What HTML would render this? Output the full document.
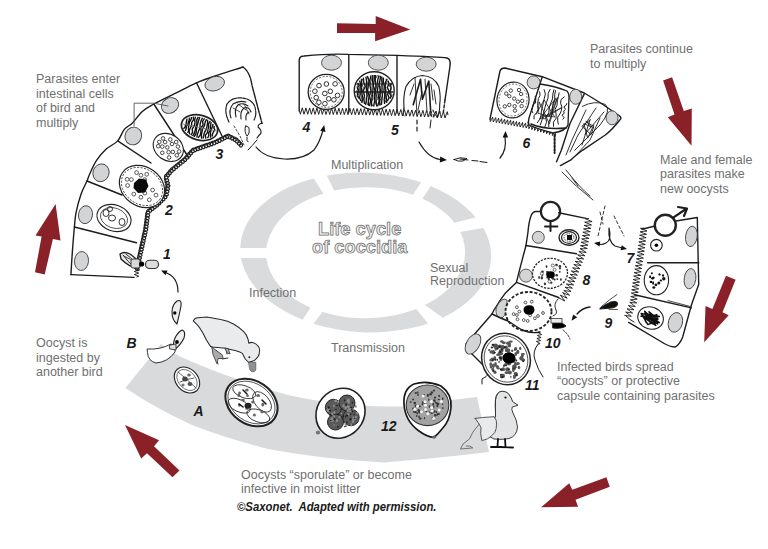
<!DOCTYPE html>
<html><head><meta charset="utf-8">
<style>
html,body{margin:0;padding:0;background:#fff;}
svg{display:block;}
.t{font-family:"Liberation Sans",sans-serif;font-size:12.5px;fill:#707070;}
.n{font-family:"Liberation Sans",sans-serif;font-size:14px;font-weight:bold;font-style:italic;fill:#1a1a1a;}
.ln{fill:none;stroke:#1c1c1c;stroke-width:1.4;stroke-linecap:round;stroke-linejoin:round;}
.nuc{fill:#d4d5d7;stroke:#333;stroke-width:0.9;}
.ar{fill:#8a2128;}
</style></head>
<body>
<svg width="768" height="549" viewBox="0 0 768 549">
<rect width="768" height="549" fill="#fff"/>

<!-- central ring -->
<g id="ring">
<path fill="#dadbdd" fill-rule="evenodd" d="M240.2,252.5 A125.5,79.8 0 1 0 491.2,252.5 A125.5,79.8 0 1 0 240.2,252.5 Z" transform="rotate(2.6 365.7 252.5)"/><path fill="#fff" d="M266.1,252.7 A99.5,65.5 0 1 0 465.1,252.7 A99.5,65.5 0 1 0 266.1,252.7 Z" transform="rotate(-0.5 365.6 252.7)"/>
<g fill="#fff">
<polygon points="235,248 275,248 275,258 235,258"/>
<polygon points="311.3,174.4 323.3,168.6 337.2,196.4 326.2,198.1"/>
<polygon points="424.9,177.0 433.2,181.9 419.8,203.1 410.6,198.0"/>
<polygon points="482.3,215.5 488.9,227.0 454.1,233.0 448.2,224.5"/>
<polygon points="446.6,320.5 430.3,326.2 412.1,304.1 420.4,301.7"/>
<polygon points="299.1,325.6 308.0,331.1 325.8,307.5 313.7,302.5"/>
</g>
</g>

<!-- bottom grey band -->
<path fill="#d9dadc" d="M161,344 Q168,350 181,357 Q235,381 290,395.5 Q330,404 360,405.8 Q385,407 404,406.4 Q430,404 451,400 L477,397 L489,452 Q440,458 384,462.5 Q320,459 267,448.7 Q225,438 192,425 Q155,408 125.4,388 Z"/>

<!-- arrows -->
<polygon class="ar" points="337,23.2 375.7,24 375.7,16.1 410.3,29.4 375.1,41.3 375.1,33.1 337,32.9"/>
<polygon class="ar" points="663.1,80.5 672.1,77.3 683.8,111.1 691.8,108.6 691.5,145.7 667.8,117.3 674.5,114.4"/>
<polygon class="ar" points="726,275.8 735.6,279.7 722.5,312.2 728.7,315.3 704.2,342.3 705.5,306 712.4,309.1"/>
<polygon class="ar" points="606.4,477.3 609.8,486.7 575.5,499.7 578.1,506.7 541.1,507.3 569.2,483.3 572.3,489.8"/>
<polygon class="ar" points="179.5,470.6 172.5,477.3 147,453.3 141.2,458.4 125,425 159.1,440.2 154,446.3"/>
<polygon class="ar" points="44.7,274.6 35,272.3 41.6,236.4 35.5,235.5 55.6,204 60.5,240.6 52.9,239.1"/>

<!-- texts -->
<g class="t">
<text x="36" y="83">Parasites enter</text>
<text x="36" y="97.5">intestinal cells</text>
<text x="36" y="112">of bird and</text>
<text x="36" y="126.5">multiply</text>
<text x="590" y="53">Parasites continue</text>
<text x="590" y="67.5">to multiply</text>
<text x="660" y="164">Male and female</text>
<text x="660" y="178.3">parasites make</text>
<text x="660" y="192.5">new oocysts</text>
<text x="331" y="169">Multiplication</text>
<text x="430" y="271.5">Sexual</text>
<text x="430" y="285">Reproduction</text>
<text x="249" y="296.5">Infection</text>
<text x="331" y="351.5">Transmission</text>
<text x="36" y="347">Oocyst is</text>
<text x="36" y="361.5">ingested by</text>
<text x="36" y="376">another bird</text>
<text x="557" y="371">Infected birds spread</text>
<text x="557" y="385.2">“oocysts” or protective</text>
<text x="557" y="399.5">capsule containing parasites</text>
<text x="241" y="479.3">Oocysts “sporulate” or become</text>
<text x="241" y="493">infective in moist litter</text>
</g>
<text x="0" y="0" transform="translate(237 510.9) scale(0.86 1)" style="font-family:'Liberation Sans',sans-serif;font-size:13.2px;font-weight:bold;font-style:italic;fill:#1a1a1a">©Saxonet.&#160; Adapted with permission.</text>

<g style="font-family:'Liberation Sans',sans-serif;font-size:18.3px;font-weight:bold;fill:#f0f0f0;stroke:#6e6e6e;stroke-width:0.75">
<text x="318" y="234.5">Life cycle</text>
<text x="312" y="253.3">of coccidia</text>
</g>

<!-- CELLS -->
<g id="cells">
<polyline class="ln" points="134,277.4 70.9,274.6" />
<polyline fill="none" stroke="#222" stroke-width="1.0" points="136.5,277 138.7,276.2 136.5,275.4 134.3,274.6 136.5,273.9 138.7,273.1 136.5,272.3 134.3,271.5 136.5,270.7 138.7,269.9 136.5,269.1 134.3,268.4 136.5,267.6 138.7,266.8 136.5,266"/>
<path class="ln" d="M70.9,274.6 C71.2,270.5 71.9,257.9 72.5,250 C73.1,242.1 73.8,233.2 74.4,227 C75,220.8 74.9,218.3 76,212.8 C77.1,207.3 79.2,199.5 81,194.2 C82.8,188.9 85.5,184.4 87,181 C88.5,177.6 88.2,177.1 89.8,173.7 C91.4,170.3 93.7,164.7 96.4,160.6 C99.1,156.5 102.7,152.4 106.2,149.1 C109.8,145.8 114.7,144.2 117.7,140.9 C120.7,137.6 121.8,132.4 124.3,129.4 C126.8,126.4 129.5,125.9 132.5,122.9 C135.5,119.9 138.8,114.6 142.3,111.4 C145.9,108.2 148.4,107 153.8,104 C159.2,101 167.5,97.2 174.6,93.7 C181.7,90.2 189.1,86 196.5,82.8 C203.9,79.6 211.6,77.2 219.3,74.6 C227.1,72 239.1,68.3 243,67" />
<path class="ln" d="M243,67 Q250,72 251.9,85 L262,123.3" style="stroke-dasharray:6 1.2"/>
<path class="ln" d="M262,123.3 Q258,124 258,127 Q262,130 260.8,133.5 Q258,136 257,138" style="stroke-width:1.1"/>
<path class="ln" d="M257,140 Q252,146 248,150" style="stroke-width:1"/>
<polyline class="ln" points="74.4,227 136.5,242.8" />
<polyline class="ln" points="87,181 122,195" />
<polyline class="ln" points="117.7,140.9 151,163" />
<polyline class="ln" points="153.8,104 189,158" />
<polyline class="ln" points="196.5,82.8 222,136" />
<polyline fill="none" stroke="#222" stroke-width="1.2" points="137.4,268 138.4,268.3 139,268.9 139.1,269.8 138.6,270.5 137.7,270.7 136.7,270.4 135.8,269.6 135.4,268.4 135.6,267.1 136.3,266 137.3,265.3 138.4,265.2 139.3,265.7 139.7,266.5 139.5,267.3 138.8,267.8 137.8,267.8 136.8,267.3 136.2,266.2 136,264.9 136.4,263.7 137.3,262.8 138.4,262.4 139.4,262.5 140.1,263.2 140.2,264 139.8,264.7 139,265 137.9,264.8 137.1,264 136.6,262.8 136.7,261.5 137.3,260.4 138.3,259.7 139.4,259.5 140.3,259.9 140.8,260.7 140.7,261.5 140.1,262.1 139.1,262.2 138.1,261.7 137.4,260.7 137.1,259.4 137.5,258.1 138.3,257.2 139.4,256.7 140.4,256.8 141.2,257.4 141.4,258.2 141,258.9 140.2,259.3 139.2,259.2 138.3,258.5 137.7,257.3 137.8,256 138.3,254.8 139.3,254 140.4,253.8 141.4,254.2 141.9,254.9 141.9,255.7 141.3,256.3 140.3,256.5 139.3,256.1 138.6,255.1 138.3,253.9 138.6,252.6 139.4,251.6 140.5,251 141.6,251.1 142.3,251.7 142.6,252.5 142.3,253.2 141.5,253.7 140.5,253.5 139.6,252.9 139,251.7 139,250.4 139.5,249.2 140.5,248.4 141.6,248.2 142.6,248.5 143.2,249.2 143.2,250 142.6,250.6 141.7,250.8 140.7,250.5 139.9,249.6 139.5,248.3 139.8,247 140.6,246 141.6,245.4 142.7,245.4 143.6,245.9 143.9,246.7 143.6,247.5 142.9,248 141.8,247.9 140.9,247.3 140.3,246.2 140.2,244.9 140.7,243.7 141.7,242.8 142.8,242.5 143.8,242.8 144.4,243.4 144.4,244.3 143.9,244.9 143,245.2 142,244.9 141.2,244 140.8,242.8 141,241.5 141.7,240.4 142.8,239.8 143.9,239.7 144.8,240.2 145.1,241 144.9,241.8 144.2,242.3 143.2,242.3 142.2,241.7 141.6,240.7 141.5,239.4 141.9,238.1 142.8,237.2 144,236.9 145,237.1 145.6,237.7 145.7,238.5 145.3,239.2 144.4,239.5 143.4,239.3 142.5,238.5 142.1,237.2 142.2,235.9 142.9,234.8 144,234.1 145.1,234 146,234.5 146.4,235.3 146.2,236.1 145.6,236.6 144.6,236.7 143.6,236.1 142.9,235.1 142.7,233.8 143.1,232.6 144,231.6 145.1,231.2 146.2,231.4 146.9,232 147,232.8 146.6,233.5 145.8,233.9 144.7,233.7 143.9,232.9 143.4,231.7 143.5,230.4 144.1,229.2 145.1,228.5 146.3,228.4 147.1,228.7 147.6,229.3 147.6,230.2 147,230.8 146,231 145,230.6 144.2,229.7 143.8,228.4 144.1,227.1 144.9,226 145.9,225.5 147,225.5 147.8,226.1 148,226.9 147.7,227.7 146.9,228.1 145.9,228 144.9,227.3 144.3,226.2 144.3,224.8 144.8,223.6 145.8,222.8 146.9,222.6 147.8,222.9 148.4,223.6 148.3,224.4 147.7,225.1 146.8,225.2 145.7,224.8 144.9,223.9 144.6,222.6 144.9,221.3 145.6,220.3 146.7,219.8 147.8,219.8 148.5,220.3 148.8,221.1 148.5,221.9 147.7,222.3 146.6,222.2 145.7,221.5 145.1,220.4 145,219.1 145.6,217.9 146.5,217.1 147.6,216.8 148.6,217.1 149.1,217.8 149.1,218.7 148.5,219.3 147.5,219.5 146.5,219.1 145.7,218.1 145.4,216.9 145.6,215.6 146.4,214.5 147.5,214 148.5,214 149.3,214.6 149.6,215.4 149.2,216.2 148.4,216.6 147.4,216.5 146.4,215.8 145.8,214.7 145.8,213.3 146.3,212.1 147.3,211.3 148.4,211.1 149.4,211.4 149.9,212.1 149.8,212.9 148.6,213.9 147,213.5 146.5,212.5 146.6,211.2 147.2,210.1 148.3,209.3 149.6,209.1 150.7,209.4 151.5,210.2 151.7,211.1 151.3,211.9 150.6,212.2 149.7,212 149,211.2 148.8,210.1 149.1,208.9 150,207.9 151.2,207.3 152.4,207.4 153.4,207.9 153.9,208.8 153.9,209.7 153.3,210.3 152.4,210.4 151.6,209.9 151.1,208.9 151.1,207.7 151.7,206.6 152.7,205.8 154,205.5 155.2,205.8 156,206.5 156.2,207.4 155.9,208.2 155.2,208.6 154.3,208.4 153.6,207.7 153.3,206.6 153.6,205.4 154.4,204.3 155.6,203.7 156.8,203.7 157.9,204.2 158.4,205.1 158.4,206 157.9,206.6 157.1,206.8 156.2,206.4 155.7,205.4 155.6,204.2 156.1,203.1 157,202.2 158.2,201.8 159.4,201.9 160.3,202.5 160.7,203.4 160.5,204.2 159.9,204.8 159,204.7 158.2,204.2 157.7,203.1 157.8,201.9 158.5,200.7 159.5,200 160.8,199.7 161.9,200.1 162.6,200.9 162.8,201.8 162.3,202.5 161.5,202.8 160.7,202.5 160,201.7 159.7,200.5 160.1,199.2 161,198.3 162.2,197.7 163.4,197.8 164.4,198.4 164.8,199.2 164.7,200.1 164.1,200.6 163.2,200.7 162.3,200.1 161.8,199.1 161.9,197.8 162.5,196.7 163.6,195.9 164.8,195.6 165.9,196 166.7,196.7 166.9,197.6 166.5,198.3 165.7,198.7 164.8,198.4 164.1,197.6 163.8,196.5 164,195.8 164.2,195 164.9,193.9 165.9,193.3 167.1,193.2 167.9,193.7 168.3,194.5 168.1,195.3 167.3,195.8 166.3,195.7 165.3,195.1 164.7,194 164.6,192.7 165.1,191.5 166.1,190.6 167.2,190.3 168.2,190.6 168.8,191.3 168.8,192.1 168.2,192.8 167.3,193 166.2,192.6 165.5,191.6 165.2,190.4 165.4,189 166.3,188 167.4,187.5 168.5,187.6 169.2,188.2 169.4,189 169.1,189.7 168.2,190.1 167.2,190 166.3,189.2 165.8,188 165.8,186.7 166.5,185.5 167.5,184.8 168.6,184.6 169.6,185.1 169.9,185.4 169.9,185.9 169.5,186.6 168.6,187.1 167.5,187 166.4,186.3 165.8,185.1 165.7,183.8 166.2,182.6 167.1,181.8 168.1,181.6 168.9,182 169.3,182.7 169.1,183.6 168.3,184.2 167.2,184.2 166.1,183.7 165.3,182.7 165,181.4 165.3,180.1 166.1,179.2 167.1,178.8 168.1,179 168.6,179.6 168.6,180.5 168,181.2 167,181.5 165.8,181.1 164.9,180.2 164.4,179 164.5,177.7 165.2,176.6 166.2,176 167.2,176 167.9,176.6 168.1,177.4 166.9,178.8 165.1,178.5 164.6,177.5 164.5,176.3 165,175 166.1,174.2 167.3,173.9 168.5,174.1 169.2,174.9 169.4,175.8 169,176.5 168.2,176.8 167.3,176.5 166.6,175.7 166.3,174.5 166.7,173.2 167.6,172.2 168.8,171.7 170,171.8 170.9,172.4 171.3,173.3 171.1,174.1 170.4,174.6 169.5,174.5 168.7,173.8 168.2,172.7 168.4,171.4 169.1,170.3 170.3,169.6 171.5,169.5 172.6,170 173.2,170.8 173.1,171.7 172.6,172.3 171.7,172.4 170.8,171.9 170.1,170.7 170.3,169.3 171,168.2 172.2,167.6 173.5,167.5 174.5,167.9 175.2,168.8 175.2,169.7 174.7,170.4 173.9,170.6 173,170.2 172.4,169.3 172.4,168.1 172.9,166.9 173.9,166 175.1,165.6 176.3,165.9 177.2,166.5 177.5,167.5 177.3,168.3 176.5,168.7 175.7,168.6 174.9,167.9 174.6,166.8 174.8,165.6 175.6,164.5 176.8,163.9 178.1,163.9 179.1,164.4 179.7,165.2 179.7,166.1 179.2,166.8 178.3,166.9 177.5,166.5 176.9,165.5 176.9,164.3 177.5,163.1 178.5,162.3 179.8,162 181,162.3 181.8,163 182,163.9 181.7,164.7 181,165.1 180.1,164.9 179.4,164.2 179.1,163 179.4,161.8 180.2,160.8 181.4,160.2 182.7,160.2 183.7,160.8 184.2,161.7 184.2,162.6 183.6,163.2 182.7,163.2 181.9,162.8 181.4,161.8 181.4,160.5 182,159.4 183.1,158.6 184.4,158.3 185.6,158.7 186.3,159.4 186.5,160.3 186.2,161.1 185.6,161.4 184.8,161.3 184,160.6 183.6,159.5 183.7,158.3 184.4,157.1 185.5,156.4 186.8,156.3 187.8,156.7 188.5,157.5 188.5,158.3 188,159 187.2,159.2 186.3,158.8 185.7,157.9 185.5,156.7 185.9,155.5 186.9,154.5 188.1,154.1 189.3,154.2 190.1,154.9 190.5,155.7 190.2,156.6 189.5,157 188.6,156.9 187.8,156.2 187.4,155.1 187.6,153.9 188.3,152.8 189.4,152.1 190.6,151.9 191.7,152.3 192.3,153.1 192.3,154 191.8,154.7 191,154.9 190.1,154.5 189.5,153.5 189.3,152.3 189.8,151.1 190.7,150.2 191.9,149.7 193.1,149.9 194,150.5 194.3,151.4 194.1,152.2 193.4,152.7 192.4,152.6 191.3,151.5 191.3,149.9 192,148.8 193.2,148.2 194.5,148.1 195.7,148.6 196.4,149.5 196.5,150.5 196.2,151.3 195.4,151.6 194.6,151.4 194,150.6 193.8,149.5 194.3,148.4 195.3,147.5 196.5,147.1 197.8,147.3 198.8,148 199.3,149 199.2,149.9 198.6,150.5 197.8,150.6 197,150.1 196.6,149.2 196.7,148.1 197.4,147 198.5,146.3 199.8,146.2 201,146.6 201.8,147.5 202,148.5 201.7,149.3 201,149.7 200.1,149.5 199.5,148.8 199.3,147.7 199.7,146.6 200.6,145.7 201.8,145.2 203.1,145.3 204.2,146 204.7,146.9 204.7,147.9 204.1,148.6 203.3,148.7 202.5,148.3 202.1,147.4 202.1,146.2 202.8,145.2 203.9,144.4 205.2,144.2 206.4,144.6 207.2,145.4 207.5,146.4 207.2,147.3 206.5,147.7 205.7,147.6 205,147 204.8,145.9 205.1,144.8 205.9,143.8 207.2,143.3 208.5,143.4 209.5,144 210.1,144.9 210.2,145.9 209.7,146.6 208.9,146.8 208.1,146.4 207.6,145.6 207.6,144.4 208.1,143.3 209.2,142.5 210.5,142.3 211.7,142.6 212.6,143.4 212.9,144.4 212.7,145.2 212.1,145.8 211.2,145.7 210.5,145.1 210.2,144.1 210.5,143 211.3,142 212.5,141.4 213.8,141.4 214.9,141.9 215.6,142.8 215.7,143.8 215.2,144.6 214.4,144.8 213.6,144.5 213.1,143.7 213,142.8 213.4,141.7 214.3,140.7 215.5,140.3 216.8,140.4 217.8,141 218.3,141.9 218.3,142.8 217.7,143.4 216.9,143.6 216.1,143.1 215.6,142.2 215.7,141 216.3,139.9 217.4,139.1 218.7,138.9 219.9,139.3 220.7,140.1 221,141 220.7,141.8 220,142.3 219.1,142.1 218.4,141.4 218.2,140.3 218.5,139.2 219.4,138.2 220.6,137.7 221.9,137.7 222.9,138.3 223.5,139.2 223.5,140.1 223,140.8 222.2,141 221.3,140.5 220.8,139.6 220.8,138.5 221.4,137.3 222.5,136.6 223.8,136.3 225,136.6 225.8,137.4 226.2,138.3 225.9,139.2 225.2,139.6 224.3,139.5 223.6,138.9 223.4,137.8 223.6,136.6 224.5,135.6 225.7,135 227,135.1 228,135.6 228.6,136.5 228.7,137.4 228.2,138.1 227.4,138.3 226.6,138 226,137.1 226.2,135 228.1,134.1 229.4,134.5 230.4,135.4 230.9,136.5 230.8,137.7 230.2,138.5 229.3,138.8 228.6,138.5 228.2,137.7 228.3,136.7 229.1,135.9 230.3,135.4 231.6,135.6 232.7,136.3 233.4,137.4 233.5,138.6 233,139.6 232.2,140.1 231.4,139.9 230.8,139.3 230.8,138.3 231.4,137.4 232.4,136.8 233.7,136.8 235,137.3 235.8,138.3 236.1,139.5 235.8,140.6 235.1,141.2 234.3,141.3 233.6,140.9 233.3,140 233.7,139 234.6,138.3 236.2,138 237.6,138.8 238.3,139.9 238.4,141.2 238,142.3 237.1,142.9 236.2,142.9 235.6,142.3 235.5,141.5 235.9,140.6 236.9,140 238.2,140 239.4,140.6 240.2,141.6 240.5,142.9 240.2,144.1 239.4,144.8 238.5,145 237.8,144.6 237.5,143.8 237.8,142.9 238.7,142.2 239.9,142 241.1,142.4 242.1,143.4 242.5,144.6 242.4,145.8 241.7,146.7 240.8,147.1 240,146.8 239.6,146.1 239.7,145.2 240.4,144.4 241.6,144"/>
<ellipse cx="81.5" cy="261" rx="7" ry="9.5" transform="rotate(5 81.5 261)" fill="#d3d4d6" stroke="#444" stroke-width="0.9" />
<ellipse cx="85.5" cy="214.7" rx="7" ry="9" transform="rotate(10 85.5 214.7)" fill="#d3d4d6" stroke="#444" stroke-width="0.9" />
<ellipse cx="101" cy="172.8" rx="8" ry="9" transform="rotate(20 101 172.8)" fill="#d3d4d6" stroke="#444" stroke-width="0.9" />
<ellipse cx="133.3" cy="136" rx="8.2" ry="9" transform="rotate(25 133.3 136)" fill="#d3d4d6" stroke="#444" stroke-width="0.9" />
<ellipse cx="170" cy="105.5" rx="9" ry="7.5" transform="rotate(-30 170 105.5)" fill="#d3d4d6" stroke="#444" stroke-width="0.9" />
<ellipse cx="214.7" cy="83.7" rx="10" ry="7" transform="rotate(-18 214.7 83.7)" fill="#d3d4d6" stroke="#444" stroke-width="0.9" />
<ellipse cx="114" cy="218" rx="17.5" ry="13" transform="rotate(20 114 218)" fill="#fff" stroke="#222" stroke-width="1.1" />
<ellipse cx="114" cy="218" rx="14" ry="10" transform="rotate(20 114 218)" fill="none" stroke="#222" stroke-width="0.7" />
<ellipse cx="106" cy="213" rx="3" ry="3.5" transform="rotate(0 106 213)" fill="none" stroke="#222" stroke-width="0.9" />
<ellipse cx="112" cy="218" rx="3.5" ry="3" transform="rotate(0 112 218)" fill="none" stroke="#222" stroke-width="0.9" />
<ellipse cx="122" cy="222" rx="3" ry="3.5" transform="rotate(0 122 222)" fill="none" stroke="#222" stroke-width="0.9" />
<ellipse cx="110" cy="209" rx="2.5" ry="2.5" transform="rotate(0 110 209)" fill="none" stroke="#222" stroke-width="0.9" />
<ellipse cx="142" cy="186.5" rx="24" ry="19.5" transform="rotate(35 142 186.5)" fill="#fff" stroke="#222" stroke-width="1.2" />
<ellipse cx="142" cy="186.5" rx="22" ry="17.5" transform="rotate(35 142 186.5)" fill="none" stroke="#222" stroke-width="0.8" stroke-dasharray="2 1.5"/>
<circle cx="139.3" cy="187" r="1.9" fill="#fff" stroke="#333" stroke-width="0.8"/><circle cx="131.4" cy="179.6" r="1.9" fill="#fff" stroke="#333" stroke-width="0.8"/><circle cx="140.9" cy="197.2" r="1.9" fill="#fff" stroke="#333" stroke-width="0.8"/><circle cx="144.9" cy="193.1" r="1.9" fill="#fff" stroke="#333" stroke-width="0.8"/><circle cx="136.6" cy="172.6" r="1.9" fill="#fff" stroke="#333" stroke-width="0.8"/><circle cx="133.8" cy="194.1" r="1.9" fill="#fff" stroke="#333" stroke-width="0.8"/><circle cx="144.7" cy="179.7" r="1.9" fill="#fff" stroke="#333" stroke-width="0.8"/><circle cx="149.3" cy="199.8" r="1.9" fill="#fff" stroke="#333" stroke-width="0.8"/><circle cx="140.9" cy="175.2" r="1.9" fill="#fff" stroke="#333" stroke-width="0.8"/><circle cx="152.6" cy="190" r="1.9" fill="#fff" stroke="#333" stroke-width="0.8"/><circle cx="156" cy="195.1" r="1.9" fill="#fff" stroke="#333" stroke-width="0.8"/><circle cx="144.9" cy="186.5" r="1.9" fill="#fff" stroke="#333" stroke-width="0.8"/><circle cx="127.6" cy="185.5" r="1.9" fill="#fff" stroke="#333" stroke-width="0.8"/><circle cx="127.1" cy="179.3" r="1.9" fill="#fff" stroke="#333" stroke-width="0.8"/><circle cx="138.7" cy="182.3" r="1.9" fill="#fff" stroke="#333" stroke-width="0.8"/><circle cx="146.7" cy="174.3" r="1.9" fill="#fff" stroke="#333" stroke-width="0.8"/>
<polygon fill="#0a0a0a" points="134,183 139,178.5 146,179.5 148.5,186 145,192.5 138,193 133.5,188"/>
<ellipse cx="168.3" cy="147.4" rx="16" ry="13" transform="rotate(35 168.3 147.4)" fill="#fff" stroke="#222" stroke-width="1.1" />
<circle cx="170.3" cy="139.5" r="1.8" fill="#fff" stroke="#333" stroke-width="0.9"/><circle cx="177.9" cy="146.6" r="1.8" fill="#fff" stroke="#333" stroke-width="0.9"/><circle cx="172" cy="144" r="1.8" fill="#fff" stroke="#333" stroke-width="0.9"/><circle cx="162.3" cy="146.6" r="1.8" fill="#fff" stroke="#333" stroke-width="0.9"/><circle cx="169.1" cy="157.5" r="1.8" fill="#fff" stroke="#333" stroke-width="0.9"/><circle cx="168.6" cy="152.2" r="1.8" fill="#fff" stroke="#333" stroke-width="0.9"/><circle cx="176.8" cy="155.3" r="1.8" fill="#fff" stroke="#333" stroke-width="0.9"/><circle cx="163" cy="138.4" r="1.8" fill="#fff" stroke="#333" stroke-width="0.9"/><circle cx="159.3" cy="141.9" r="1.8" fill="#fff" stroke="#333" stroke-width="0.9"/><circle cx="167.3" cy="147.4" r="1.8" fill="#fff" stroke="#333" stroke-width="0.9"/><circle cx="162.3" cy="152.8" r="1.8" fill="#fff" stroke="#333" stroke-width="0.9"/><circle cx="179.1" cy="151.5" r="1.8" fill="#fff" stroke="#333" stroke-width="0.9"/><circle cx="176.2" cy="142" r="1.8" fill="#fff" stroke="#333" stroke-width="0.9"/><circle cx="172.8" cy="151.9" r="1.8" fill="#fff" stroke="#333" stroke-width="0.9"/><circle cx="165.1" cy="142.1" r="1.8" fill="#fff" stroke="#333" stroke-width="0.9"/><circle cx="158.2" cy="146.2" r="1.8" fill="#fff" stroke="#333" stroke-width="0.9"/>
<ellipse cx="199.5" cy="127.6" rx="18.5" ry="12.4" transform="rotate(15 199.5 127.6)" fill="#fff" stroke="#222" stroke-width="1.7" />
<polyline fill="none" stroke="#111" stroke-width="1.4" points="187,118.7 186.7,120.5 186.3,122.2 186.1,124 185.3,125.6 185.1,127.4 183.3,128.8"/><polyline fill="none" stroke="#111" stroke-width="1.4" points="189.2,117.6 189.3,120 188.2,122.2 188,124.5 186.2,126.5 186.2,128.9 185.2,131"/><polyline fill="none" stroke="#111" stroke-width="1.4" points="191.6,117 191,119.7 189.4,122.1 189,124.8 188.4,127.4 188.7,130.3 187.7,132.9"/><polyline fill="none" stroke="#111" stroke-width="1.4" points="193.3,116.6 193.5,119.8 191.7,122.4 191.6,125.5 190.1,128.2 189.1,131 189.7,134.3"/><polyline fill="none" stroke="#111" stroke-width="1.4" points="195.5,116.6 194.7,119.7 195,123.1 194,126.1 192.3,129 192.5,132.4 191,135.3"/><polyline fill="none" stroke="#111" stroke-width="1.4" points="198.3,116.9 196.7,119.9 197,123.5 195.8,126.6 195.3,129.9 194.3,133.1 192.6,136.1"/><polyline fill="none" stroke="#111" stroke-width="1.4" points="199.9,117.1 198.7,120.3 197.8,123.6 196.8,126.9 196.3,130.3 195.9,133.7 194.1,136.8"/><polyline fill="none" stroke="#111" stroke-width="1.4" points="202.5,117.7 201,120.9 200.1,124.2 200,127.7 198.6,130.9 197.4,134.2 196.8,137.6"/><polyline fill="none" stroke="#111" stroke-width="1.4" points="204.5,118.3 202.6,121.3 203.1,125 200.8,127.9 201,131.6 200.3,134.9 198.1,137.9"/><polyline fill="none" stroke="#111" stroke-width="1.4" points="206.6,119.1 205.1,122.2 204.5,125.5 202.8,128.5 202,131.7 201.3,135 201.6,138.6"/><polyline fill="none" stroke="#111" stroke-width="1.4" points="207.6,119.8 207.6,123.1 207,126.3 206.2,129.4 204.5,132.3 203.7,135.4 203.1,138.5"/><polyline fill="none" stroke="#111" stroke-width="1.4" points="210.3,121.2 208.5,123.8 208.7,127 208,129.9 207.3,132.8 205.3,135.4 205.9,138.7"/><polyline fill="none" stroke="#111" stroke-width="1.4" points="211.1,122.2 210.7,125 210.4,127.7 210.2,130.5 208.6,132.9 208.8,135.7 207.5,138.2"/><polyline fill="none" stroke="#111" stroke-width="1.4" points="213.1,124 212.5,126.3 211.7,128.4 210.9,130.7 210.4,132.9 210.7,135.4 210.5,137.8"/><polyline fill="none" stroke="#111" stroke-width="1.4" points="214.4,126.1 213.8,127.8 214.8,129.9 213.7,131.4 213,133 212.3,134.7 212.4,136.5"/>
<polyline class="ln" points="183,124 216,131" style="stroke-width:0.9;stroke:#777"/>
<path class="ln" d="M229,122 Q224,112 227,104 Q232,97 242,98 Q252,99 255,107 Q257,115 254,120" style="stroke-width:1.2;stroke-dasharray:3 1"/>
<path class="ln" d="M231,118 Q228,110 233,104 Q239,100 246,102 M236,117 Q234,109 238,105 Q243,102 248,106 M241,119 Q240,111 244,108 Q249,106 251,112 M246,120 Q245,114 249,112" style="stroke-width:1.1"/>
<path class="ln" d="M233,108 L240,112 M238,104 L246,110 M244,104 L249,114" style="stroke-width:0.8"/>
<path class="ln" d="M245.5,126 Q244,132 247,136 Q250,134 249,128 Z M247,137 Q246,141 248,142" style="stroke-width:1"/>
<path class="ln" d="M234,126 L240,136 L244,145" style="stroke-width:0.8;stroke-dasharray:2 2"/>
<path class="ln" d="M120,254 Q124,251 130,254 Q136,258 138,262 L137,268 Q129,267 121,259 Z" style="fill:#e8e8e8;stroke-width:1.3"/>
<path class="ln" d="M123,255 Q128,262 133,266 M126,254 Q131,258 135,262" style="stroke-width:0.9"/>
<path class="ln" d="M124,256 Q130,258 135,264" style="stroke-width:0.8"/>
<rect x="131" y="259" width="9" height="9" rx="2" fill="#d8d8d8" stroke="#333" stroke-width="0.9"/>
<rect x="145.5" y="260.3" width="13" height="8.2" rx="4" fill="#dcdcdc" stroke="#333" stroke-width="1.1"/>
<circle cx="141.6" cy="264" r="2.6" fill="#000"/>
<path class="ln" d="M178,292 Q178,276 164,272" style="stroke-width:1.2"/>
<polygon fill="#111" points="161,270.5 167.5,270.6 165.5,275.2"/>
<polyline class="ln" points="134.1,126.1 134.1,103.2 153.8,103.2 168,106" style="stroke:#555;stroke-width:0.9"/>
<text class="n" x="163" y="258.5">1</text>
<text class="n" x="165" y="214.7">2</text>
<text class="n" x="215.5" y="159.2">3</text>
<path class="ln" d="M299.2,111 L299.2,60 Q299.5,56 304,56 Q330,53.5 348,54.4 L397,55.4 Q440,57 447,58 Q451,59 450,66 L445,100" />
<path class="ln" d="M445,100 L443.4,112" style="stroke-dasharray:3 2"/>
<polyline class="ln" points="348.8,54.4 348.8,112" />
<polyline class="ln" points="397,55.4 397,113" />
<polyline fill="none" stroke="#222" stroke-width="1.0" points="299.5,111 300.4,114.2 301.3,111 302.3,107.8 303.2,111 304,114.2 305,111.1 305.9,107.9 306.8,111.1 307.7,114.3 308.7,111.1 309.6,107.9 310.5,111.1 311.4,114.3 312.3,111.1 313.3,107.9 314.1,111.2 315,114.4 316,111.2 316.9,108 317.8,111.2 318.7,114.4 319.6,111.2 320.6,108 321.5,111.2 322.3,114.4 323.3,111.2 324.2,108.1 325.1,111.3 326,114.5 327,111.3 327.9,108.1 328.8,111.3 329.7,114.5 330.6,111.3 331.6,108.1 332.4,111.3 333.3,114.5 334.3,111.4 335.2,108.2 336.1,111.4 337,114.6 337.9,111.4 338.9,108.2 339.8,111.4 340.6,114.6 341.6,111.4 342.5,108.2 343.4,111.5 344.3,114.7 345.3,111.5 346.2,108.3 347.1,111.5 348,114.7 348.9,111.5 349.9,108.3 350.7,111.6 351.6,114.8 352.5,111.6 353.5,108.4 354.4,111.6 355.2,114.8 356.2,111.7 357.1,108.5 358,111.7 358.8,114.9 359.8,111.7 360.8,108.6 361.6,111.8 362.5,115 363.4,111.8 364.4,108.6 365.2,111.9 366.1,115.1 367.1,111.9 368,108.7 368.9,111.9 369.7,115.1 370.7,112 371.7,108.8 372.5,112 373.3,115.2 374.3,112 375.3,108.9 376.1,112.1 377,115.3 377.9,112.1 378.9,108.9 379.8,112.1 380.6,115.4 381.6,112.2 382.5,109 383.4,112.2 384.2,115.4 385.2,112.3 386.2,109.1 387,112.3 387.9,115.5 388.8,112.3 389.8,109.2 390.6,112.4 391.5,115.6 392.5,112.4 393.4,109.2 394.3,112.4 395.1,115.7 396.1,112.5 397.1,109.3 397.9,112.5 398.7,115.8 399.8,112.6 400.8,109.5 401.6,112.7 402.4,115.9 403.4,112.8 404.5,109.6 405.3,112.9 406.1,116.1 407.1,112.9 408.2,109.8 409,113 409.8,116.2 410.8,113.1 411.9,109.9 412.7,113.2 413.4,116.4 414.5,113.2 415.6,110.1 416.3,113.3 417.1,116.6 418.2,113.4 419.2,110.3 420,113.5 420.8,116.7 421.9,113.6 422.9,110.4 423.7,113.6 424.5,116.9 425.6,113.7 426.6,110.6 427.4,113.8 428.2,117 429.2,113.9 430.3,110.7 431.1,114 431.9,117.2"/>
<polyline fill="none" stroke="#222" stroke-width="1.0" points="433,114 433.7,117.3 434.9,114.1 436,111 436.8,114.2 437.5,117.5 438.6,114.4 439.8,111.2 440.5,114.5 441.2,117.8 442.4,114.6 443.5,111.5 444.2,114.8 445,118 446.1,114.9 447.3,111.7 448,115"/>
<ellipse cx="331.5" cy="62.7" rx="10" ry="7.5" transform="rotate(0 331.5 62.7)" fill="#d3d4d6" stroke="#444" stroke-width="0.9" />
<ellipse cx="378.3" cy="62.7" rx="10" ry="7.5" transform="rotate(0 378.3 62.7)" fill="#d3d4d6" stroke="#444" stroke-width="0.9" />
<ellipse cx="426.2" cy="64.2" rx="10" ry="7" transform="rotate(0 426.2 64.2)" fill="#d3d4d6" stroke="#444" stroke-width="0.9" />
<ellipse cx="326.2" cy="91.9" rx="18" ry="17.5" transform="rotate(0 326.2 91.9)" fill="#fff" stroke="#222" stroke-width="1.3" />
<ellipse cx="326.2" cy="91.9" rx="16" ry="15.5" transform="rotate(0 326.2 91.9)" fill="none" stroke="#222" stroke-width="0.7" stroke-dasharray="2 1.5"/>
<circle cx="316.2" cy="97.6" r="2.3" fill="#fff" stroke="#333" stroke-width="1.0"/><circle cx="330.3" cy="91.3" r="2.3" fill="#fff" stroke="#333" stroke-width="1.0"/><circle cx="326.4" cy="84" r="2.3" fill="#fff" stroke="#333" stroke-width="1.0"/><circle cx="335.1" cy="83.9" r="2.3" fill="#fff" stroke="#333" stroke-width="1.0"/><circle cx="337.5" cy="95.4" r="2.3" fill="#fff" stroke="#333" stroke-width="1.0"/><circle cx="324.8" cy="93.5" r="2.3" fill="#fff" stroke="#333" stroke-width="1.0"/><circle cx="333.9" cy="99.8" r="2.3" fill="#fff" stroke="#333" stroke-width="1.0"/><circle cx="328.7" cy="98.8" r="2.3" fill="#fff" stroke="#333" stroke-width="1.0"/><circle cx="314.9" cy="91.2" r="2.3" fill="#fff" stroke="#333" stroke-width="1.0"/><circle cx="319" cy="85.6" r="2.3" fill="#fff" stroke="#333" stroke-width="1.0"/><circle cx="318.9" cy="102.3" r="2.3" fill="#fff" stroke="#333" stroke-width="1.0"/><circle cx="324.9" cy="103.7" r="2.3" fill="#fff" stroke="#333" stroke-width="1.0"/>
<ellipse cx="374.2" cy="90.8" rx="20" ry="19" transform="rotate(0 374.2 90.8)" fill="#fff" stroke="#222" stroke-width="1.4" />
<polyline fill="none" stroke="#111" stroke-width="1.35" points="357.6,82.9 359.1,85.5 357.4,88.2 358.6,90.8 357.4,93.4 357.7,96.1 359.2,98.7"/><polyline fill="none" stroke="#111" stroke-width="1.35" points="359.6,80.5 360.5,83.9 360.1,87.4 360.1,90.8 360.2,94.2 359.6,97.7 360.8,101.1"/><polyline fill="none" stroke="#111" stroke-width="1.35" points="361.4,78.8 361.7,82.8 361.2,86.8 361.7,90.8 362,94.8 363,98.8 361.9,102.8"/><polyline fill="none" stroke="#111" stroke-width="1.35" points="363.4,77.6 363.7,82 365.2,86.4 363.3,90.8 364.4,95.2 363.9,99.6 364.5,104"/><polyline fill="none" stroke="#111" stroke-width="1.35" points="365.9,76.6 366.6,81.3 366.2,86.1 366.5,90.8 367,95.5 366.4,100.3 365.5,105"/><polyline fill="none" stroke="#111" stroke-width="1.35" points="367.3,75.9 369.1,80.9 368.2,85.8 367.6,90.8 369.1,95.8 368.4,100.7 368.7,105.7"/><polyline fill="none" stroke="#111" stroke-width="1.35" points="371,75.4 369.8,80.5 369.9,85.7 371,90.8 369.5,95.9 370.7,101.1 369.4,106.2"/><polyline fill="none" stroke="#111" stroke-width="1.35" points="372.6,75.1 372.6,80.4 373.1,85.6 372.9,90.8 372.2,96 371.6,101.2 371.5,106.5"/><polyline fill="none" stroke="#111" stroke-width="1.35" points="374.3,75 374.2,80.3 373.3,85.5 375,90.8 374.2,96 374.6,101.3 373.6,106.5"/><polyline fill="none" stroke="#111" stroke-width="1.35" points="375.7,75.1 375.2,80.4 375.9,85.6 375.7,90.8 376,96 376,101.2 376.9,106.5"/><polyline fill="none" stroke="#111" stroke-width="1.35" points="379,75.4 377.6,80.5 378,85.7 377.5,90.8 378.5,95.9 379.2,101.1 377.6,106.2"/><polyline fill="none" stroke="#111" stroke-width="1.35" points="380.7,75.9 379.8,80.9 379.2,85.8 380.7,90.8 379.9,95.8 379.5,100.7 380.1,105.7"/><polyline fill="none" stroke="#111" stroke-width="1.35" points="381.7,76.6 382,81.3 382.1,86.1 382,90.8 382.4,95.5 381.8,100.3 381.4,105"/><polyline fill="none" stroke="#111" stroke-width="1.35" points="383.4,77.6 383.4,82 384.3,86.4 383.9,90.8 384.8,95.2 384.2,99.6 384.6,104"/><polyline fill="none" stroke="#111" stroke-width="1.35" points="387.2,78.8 385.3,82.8 385.2,86.8 385.5,90.8 386,94.8 386.4,98.8 386.7,102.8"/><polyline fill="none" stroke="#111" stroke-width="1.35" points="387.9,80.5 389.1,83.9 387.2,87.4 388.9,90.8 387.6,94.2 389,97.7 387.3,101.1"/><polyline fill="none" stroke="#111" stroke-width="1.35" points="391.1,82.9 390.7,85.5 391.2,88.2 390.4,90.8 389.6,93.4 391.2,96.1 390.1,98.7"/>
<polyline fill="none" stroke="#1a1a1a" stroke-width="0.8" points="357.9,84 357.6,85.7 356.8,87.4 359.2,89.1 356.4,90.8 358,92.5 359.3,94.2 356.7,95.9 358.2,97.6"/><polyline fill="none" stroke="#1a1a1a" stroke-width="0.8" points="363,78.8 361.2,81.8 362.2,84.8 363.3,87.8 362.5,90.8 363.3,93.8 361.5,96.8 361.8,99.8 361.4,102.8"/><polyline fill="none" stroke="#1a1a1a" stroke-width="0.8" points="367.3,76.4 368.6,80 367.5,83.6 368.1,87.2 366.9,90.8 368,94.4 366,98 366.6,101.6 367.8,105.2"/><polyline fill="none" stroke="#1a1a1a" stroke-width="0.8" points="372.6,75.3 371.6,79.2 370.6,83 371.1,86.9 371,90.8 371.2,94.7 372.9,98.6 370.9,102.4 373.1,106.3"/><polyline fill="none" stroke="#1a1a1a" stroke-width="0.8" points="377.7,75.3 375.1,79.2 376.1,83 376.5,86.9 375,90.8 376.3,94.7 377.8,98.6 375.3,102.4 376.8,106.3"/><polyline fill="none" stroke="#1a1a1a" stroke-width="0.8" points="379.9,76.4 381.4,80 382.4,83.6 380.2,87.2 379.6,90.8 379.8,94.4 381.3,98 379.6,101.6 379.8,105.2"/><polyline fill="none" stroke="#1a1a1a" stroke-width="0.8" points="385.8,78.8 387.1,81.8 385.5,84.8 385.4,87.8 386.2,90.8 384.5,93.8 386,96.8 384.7,99.8 386.1,102.8"/><polyline fill="none" stroke="#1a1a1a" stroke-width="0.8" points="391.9,84 389,85.7 390.6,87.4 390.7,89.1 389.3,90.8 389.7,92.5 392,94.2 392,95.9 389.2,97.6"/>
<polyline class="ln" points="355,92 393,92" style="stroke-width:1.3"/>
<polyline class="ln" points="356,84 392,84" style="stroke-width:0.9"/>
<path class="ln" d="M404,108.4 Q403,96 406,86.5 Q412,76 422.4,75.5 Q434,76 438.8,86.5 Q441,96 439.7,104.7 Q440,112 437,117.5" style="stroke-width:1.1"/>
<path class="ln" d="M404,108 Q402,114 404,116 M437,117 Q434,114 433,110 M430,116 L432,111" style="stroke-width:1"/>
<path class="ln" d="M413.2,104.7 L420.5,79.2 L422.4,99.3 L428.8,81 L430.6,110.2" style="stroke-width:1.6"/>
<path class="ln" d="M415,77.4 L416.9,113.9 M425,79.2 L427,112 M410,95 L414,84 M418,110 L422,92 M433,100 L431,84 M436,104 L434,90" style="stroke-width:0.9"/>
<path class="ln" d="M417,120 L417,133" style="stroke-dasharray:4 3;stroke-width:1.2"/>
<path class="ln" d="M431,120 L430,128" style="stroke-width:1"/>
<path class="ln" d="M256,147 C268,162 300,163 314,150 Q320,142 323,130" style="stroke-width:1.2"/>
<polygon fill="#111" points="324.2,125 325.5,131.9 320.2,130.8"/>
<text class="n" x="302.5" y="132">4</text>
<text class="n" x="391" y="134.6">5</text>
<path class="ln" d="M490,119 L500,71 Q501,68 505,68 L542.2,76.7 L584.3,93 Q600,102 616.8,114 Q622,117 620.6,119 Q612,130 605.3,135 L582.4,150.3 Q575,156 570.9,159.9 L560.4,165.6" />
<polyline class="ln" points="542.2,76.7 528,123" />
<path class="ln" d="M584.3,93.9 L570,123.5 L561.3,150.3 L556.5,161.8" />
<polyline fill="none" stroke="#222" stroke-width="1.0" points="490,119 490.3,121.5 491.5,119.3 492.7,117.1 493,119.5 493.3,122 494.5,119.8 495.7,117.6 496,120.1 496.3,122.6 497.5,120.4 498.6,118.1 498.9,120.6 499.3,123.1 500.4,120.9 501.6,118.7 501.9,121.2 502.2,123.7 503.4,121.5 504.6,119.2 504.9,121.7 505.2,124.2 506.4,122 507.6,119.8 507.9,122.3 508.2,124.8 509.4,122.6 510.6,120.3 510.9,122.8 511.2,125.3 512.4,123.1 513.5,120.9 513.8,123.4 514.2,125.9 515.3,123.7 516.5,121.4 516.8,123.9 517.1,126.4 518.3,124.2 519.5,122 519.8,124.5 520.1,127 521.3,124.8 522.5,122.5 522.8,125 523.1,127.5 524.3,125.3 525.5,123.1 525.8,125.6 526.1,128.1 527.3,125.9 528.5,123.7 528.7,126.2 528.8,128.7 530.2,126.6 531.6,124.5 531.7,127.1 531.8,129.6 533.2,127.5 534.6,125.4 534.6,127.9 534.7,130.4 536.1,128.3 537.5,126.2 537.6,128.7 537.7,131.3 539.1,129.2 540.4,127.1 540.5,129.6 540.6,132.1 542,130 543.4,127.9 543.5,130.4 543.6,132.9 544.9,130.8 546.3,128.7 546.4,131.3 546.5,133.8 547.9,131.7 549.3,129.6 549.4,132.1 549.4,134.6 550.8,132.5 552.2,130.4 552.3,132.9 552.4,135.5 553.8,133.4 555.2,131.3 555.3,133.8 555.3,136.3"/>
<path class="ln" d="M554.6,135 L554.6,153" style="stroke-dasharray:2 1.5;stroke-width:2"/>
<ellipse cx="533.6" cy="82.4" rx="6.5" ry="6.5" transform="rotate(0 533.6 82.4)" fill="#d3d4d6" stroke="#444" stroke-width="0.9" />
<ellipse cx="575.7" cy="96.8" rx="6" ry="7.5" transform="rotate(0 575.7 96.8)" fill="#d3d4d6" stroke="#444" stroke-width="0.9" />
<ellipse cx="612" cy="117.8" rx="6" ry="7" transform="rotate(0 612 117.8)" fill="#d3d4d6" stroke="#444" stroke-width="0.9" />
<ellipse cx="513" cy="100" rx="16" ry="18" transform="rotate(10 513 100)" fill="#fff" stroke="#222" stroke-width="1.2" />
<ellipse cx="513" cy="100" rx="14" ry="16" transform="rotate(10 513 100)" fill="none" stroke="#222" stroke-width="0.6" stroke-dasharray="2 1.5"/>
<circle cx="509.3" cy="104.9" r="1.7" fill="#fff" stroke="#333" stroke-width="0.9"/><circle cx="504.8" cy="106.4" r="1.7" fill="#fff" stroke="#333" stroke-width="0.9"/><circle cx="519" cy="90" r="1.7" fill="#fff" stroke="#333" stroke-width="0.9"/><circle cx="514.2" cy="98.6" r="1.7" fill="#fff" stroke="#333" stroke-width="0.9"/><circle cx="506.2" cy="93.6" r="1.7" fill="#fff" stroke="#333" stroke-width="0.9"/><circle cx="510.8" cy="90.6" r="1.7" fill="#fff" stroke="#333" stroke-width="0.9"/><circle cx="521.6" cy="106.1" r="1.7" fill="#fff" stroke="#333" stroke-width="0.9"/><circle cx="509.3" cy="96.2" r="1.7" fill="#fff" stroke="#333" stroke-width="0.9"/><circle cx="515" cy="110.6" r="1.7" fill="#fff" stroke="#333" stroke-width="0.9"/><circle cx="514.6" cy="106.2" r="1.7" fill="#fff" stroke="#333" stroke-width="0.9"/><circle cx="522.2" cy="100.9" r="1.7" fill="#fff" stroke="#333" stroke-width="0.9"/><circle cx="521.1" cy="94" r="1.7" fill="#fff" stroke="#333" stroke-width="0.9"/><circle cx="517.9" cy="101.6" r="1.7" fill="#fff" stroke="#333" stroke-width="0.9"/>
<path class="ln" d="M540,84 Q555,86 567,91 Q569,93 569,97 L568,125 Q566,131 553,133 Q535,128 529,125 Q528,122 529,118 Z" style="stroke-width:1.3;fill:#fff"/>
<polyline fill="none" stroke="#1a1a1a" stroke-width="1.0" points="535,96.4 535.9,98.8 535.5,100.8 535.6,103 533.1,104.6 532.8,106.7 532.1,108.7 531.9,110.8 533,113.2"/><polyline fill="none" stroke="#1a1a1a" stroke-width="1.0" points="539.6,91.4 540.1,95.2 538.4,98.5 537.9,102 537.6,105.6 538.1,109.3 536.6,112.7 534,115.7 534.1,119.4"/><polyline fill="none" stroke="#1a1a1a" stroke-width="1.0" points="544,89.3 545.4,94 544.3,98.2 543.4,102.4 542.5,106.6 541.4,110.8 541.1,115.1 539.7,119.3 537.2,123.1"/><polyline fill="none" stroke="#1a1a1a" stroke-width="1.0" points="550.3,89 548.2,93.4 548,98.2 546.4,102.6 545,107.2 543.9,111.7 543.1,116.4 541.7,120.9 540.1,125.4"/><polyline fill="none" stroke="#1a1a1a" stroke-width="1.0" points="554,89.3 552.9,94 552.5,98.9 550.6,103.4 549.2,108 548.8,112.9 545.8,117.2 546.5,122.3 544.8,126.9"/><polyline fill="none" stroke="#1a1a1a" stroke-width="1.0" points="555.6,90.2 554.7,94.8 554.8,99.6 552.9,104 552.6,108.8 552.1,113.5 550.5,117.9 548.7,122.4 548.8,127.2"/><polyline fill="none" stroke="#1a1a1a" stroke-width="1.0" points="559.2,92.5 558.3,96.8 557.3,100.9 557,105.3 555.1,109.3 556.1,113.9 556.1,118.3 553.4,122.2 553.6,126.6"/><polyline fill="none" stroke="#1a1a1a" stroke-width="1.0" points="564.5,96.7 561,99.6 560.6,103.2 561.9,107.1 561.3,110.6 559.9,114 557.7,117.1 557.7,120.8 558.4,124.6"/><polyline fill="none" stroke="#1a1a1a" stroke-width="1.0" points="566.9,103.2 566.2,105.2 563.9,106.9 565.5,109.4 563.6,111.1 564.2,113.4 562,115.1 564.1,117.7 562.5,119.5"/>
<polyline fill="none" stroke="#1a1a1a" stroke-width="0.8" stroke-linejoin="round" points="535.9,114.7 544.1,100 554.7,117 541.8,115.3 543.9,119.1 561.8,107.5 539.7,119.2 555.5,98.5 549.3,116.1 538,113.3 539.2,101.9 549.4,123.8 557.4,97.5 550.6,115.3"/>
<path class="ln" d="M531,124 Q545,130 566,128" style="stroke-width:1.6"/>
<path class="ln" d="M582.4,106.3 Q595,100 605.3,104.4 Q612,110 600,125 L574.7,150.3 M586,110 L572,140 L566,155 M596,108 L578,135 L570,152 M604,112 L585,134 M590,120 L582,145 M600,118 L590,140 L576,155" style="stroke-width:0.9"/>
<polyline fill="none" stroke="#1a1a1a" stroke-width="0.9" stroke-linejoin="round" points="594,124.6 587.7,138.1 583.8,123.6 591.6,127.1 585.9,121.3 593.8,126.7 591.1,134.6 581.8,126.2 590.6,119.5"/>
<path class="ln" d="M562,172 Q575,186 593,200 M566,170 Q580,188 590,196 M572,178 L578,186" style="stroke-width:0.9"/>
<path class="ln" d="M605,206 L598,236 M614,216 L624,236 M600,212 L603,224" style="stroke-dasharray:3 2.5;stroke-width:0.9"/>
<text class="n" x="522.5" y="148">6</text>
<path class="ln" d="M500,158 Q507,150 505,137" style="stroke-width:1.2"/>
<polygon fill="#111" points="505.5,131 508.1,137.6 502.6,137.4"/>
<path class="ln" d="M419,142 Q428,158 440,159.5" style="stroke-width:1.2"/>
<polygon fill="#111" points="447,160 439.8,162.5 440.2,156.5"/>
<path class="ln" d="M454,159.5 Q460,156.5 467,158.5 L463,161 Q458,162 454,159.5 Z M460,159 L468,160" style="stroke-width:1"/>
<path class="ln" d="M472,160.5 L478,161 M480,161.5 L487,162.5" style="stroke-width:1.1"/>
<ellipse cx="550.5" cy="211.4" rx="9.6" ry="9.6" transform="rotate(0 550.5 211.4)" fill="none" stroke="#222" stroke-width="2.2" />
<polyline class="ln" points="550.5,221 550.5,231" style="stroke-width:2"/>
<polyline class="ln" points="545,226.4 557.4,226.4" style="stroke-width:2"/>
<path class="ln" d="M541,211.5 L536,211.5 Q532.8,211.4 531,216 Q528.7,222.3 528,232 L526,245.5" />
<path class="ln" d="M558.7,212.8 L586,218.4" />
<path class="ln" d="M526,245.5 L576.5,253.7" />
<path class="ln" d="M526,245.5 Q521,264 516.4,282.4 L558.7,297.5" />
<polyline fill="none" stroke="#222" stroke-width="0.95" points="589,218.5 585.3,218.7 588.7,220.2 592.1,221.6 588.4,221.9 584.7,222.1 588.1,223.5 591.5,225 587.8,225.2 584.1,225.4 587.5,226.9 590.9,228.4 587.2,228.6 583.5,228.8 586.9,230.3 590.3,231.7 586.6,231.9 582.9,232.2 586.3,233.6 589.7,235.1 586,235.3 582.3,235.5 585.7,237 589.1,238.5 585.4,238.7 581.7,238.9 585.1,240.4 588.5,241.8 584.8,242 581.1,242.2 584.5,243.7 587.9,245.2 584.2,245.4 580.5,245.6 583.9,247.1 587.3,248.5 583.6,248.8 580,248.6 583.2,250.4 586.2,252.5 582.6,252 578.9,251.5 581.9,253.7 585,255.8 581.3,255.3 577.6,254.8 580.7,256.9 583.7,259 580,258.5 576.4,258 579.4,260.1 582.4,262.3 578.8,261.8 575.1,261.3 578.1,263.4 581.2,265.5 577.5,265 573.8,264.5 576.9,266.6 579.9,268.7 576.3,268.3 572.6,267.8 575.6,269.9 578.7,272 575,271.5 571.3,271 574.4,273.1 577.4,275.2 573.7,274.7 570.1,274.3 573.1,276.4 576.2,278.5 572.5,278 568.8,277.5 571.9,279.6 574.9,281.7 571.2,281.2 567.6,280.7 570.6,282.9 573.6,285 570,284.5 566.3,284 569.3,286.1 572.4,288.2 568.7,287.7 565,287.2 568.1,289.3 571.1,291.5 567.4,291 563.8,290.5 566.8,292.6 569.6,295.2 566,294.1 562.6,292.4 564.9,295.4 567.1,298.3 563.8,296.7 560.4,295.1 562.6,298 564.9,301 561.5,299.3 558.2,297.7"/>
<ellipse cx="538.3" cy="237.3" rx="6" ry="6" transform="rotate(0 538.3 237.3)" fill="#d3d4d6" stroke="#444" stroke-width="0.9" />
<ellipse cx="526" cy="275.6" rx="6.5" ry="6.5" transform="rotate(0 526 275.6)" fill="#d3d4d6" stroke="#444" stroke-width="0.9" />
<ellipse cx="569" cy="237.5" rx="10" ry="7.8" transform="rotate(0 569 237.5)" fill="#fff" stroke="#222" stroke-width="1.4" />
<ellipse cx="569" cy="237.5" rx="7.5" ry="5.8" transform="rotate(0 569 237.5)" fill="none" stroke="#222" stroke-width="1.2" />
<ellipse cx="569" cy="237.5" rx="5" ry="3.8" transform="rotate(0 569 237.5)" fill="none" stroke="#222" stroke-width="0.9" stroke-dasharray="1.5 1"/>
<rect x="567" y="235" width="5" height="5" fill="#111"/>
<ellipse cx="550" cy="273.3" rx="17.5" ry="15" transform="rotate(-5 550 273.3)" fill="#fff" stroke="#222" stroke-width="1.3" stroke-dasharray="2.2 1.2"/>
<ellipse cx="546.5" cy="266.6" rx="0.9" ry="1.4" fill="#333"/><ellipse cx="552.3" cy="278.1" rx="1.2" ry="1.1" fill="#333"/><ellipse cx="556.7" cy="275.2" rx="1.3" ry="1.3" fill="#333"/><ellipse cx="559.8" cy="271.8" rx="0.9" ry="0.9" fill="#333"/><ellipse cx="556.5" cy="265" rx="1.3" ry="1.2" fill="#333"/><ellipse cx="559.9" cy="266.2" rx="1.3" ry="1.3" fill="#333"/><ellipse cx="539.1" cy="277.5" rx="0.9" ry="1.4" fill="#333"/><ellipse cx="553.5" cy="276" rx="0.9" ry="1.4" fill="#333"/><ellipse cx="560" cy="268.3" rx="0.9" ry="1.3" fill="#333"/><ellipse cx="547.3" cy="277.4" rx="1.1" ry="1.1" fill="#333"/><ellipse cx="548.8" cy="279" rx="1.1" ry="1.3" fill="#333"/><ellipse cx="551.2" cy="282.8" rx="1.3" ry="1" fill="#333"/><ellipse cx="560.9" cy="279.6" rx="0.9" ry="1.3" fill="#333"/><ellipse cx="554.5" cy="279.5" rx="1.2" ry="1.1" fill="#333"/><ellipse cx="542.5" cy="271.7" rx="1.3" ry="1.3" fill="#333"/><ellipse cx="547.4" cy="272.1" rx="1.5" ry="1" fill="#333"/><ellipse cx="541.6" cy="278" rx="1" ry="1.4" fill="#333"/><ellipse cx="544.9" cy="283.9" rx="1.1" ry="1.4" fill="#333"/><ellipse cx="557.3" cy="279.1" rx="1" ry="0.9" fill="#333"/><ellipse cx="542.4" cy="275" rx="0.9" ry="1" fill="#333"/><ellipse cx="542.1" cy="277.7" rx="0.9" ry="1.5" fill="#333"/><ellipse cx="552.9" cy="278.6" rx="1.2" ry="1.1" fill="#333"/>
<circle cx="547.8" cy="274.1" r="1.5" fill="#fff" stroke="#333" stroke-width="0.7"/><circle cx="541.8" cy="273.6" r="1.5" fill="#fff" stroke="#333" stroke-width="0.7"/><circle cx="554.6" cy="269.8" r="1.5" fill="#fff" stroke="#333" stroke-width="0.7"/><circle cx="552.8" cy="265.5" r="1.5" fill="#fff" stroke="#333" stroke-width="0.7"/><circle cx="549.5" cy="281.6" r="1.5" fill="#fff" stroke="#333" stroke-width="0.7"/>
<ellipse cx="550.6" cy="274.7" rx="4.2" ry="3.4" transform="rotate(0 550.6 274.7)" fill="#000" stroke="#222" stroke-width="0" />
<text class="n" x="582.5" y="285.2">8</text>
<path class="ln" d="M516.4,282.4 L505.5,292.9 Q500,300 494,310 L492,314" />
<path class="ln" d="M496,308 Q502,296 507,300 Q508,314 502,318 Q495,318 496,308 Z" style="fill:#d3d4d6;stroke:#444;stroke-width:0.9"/>
<ellipse cx="528.5" cy="311.5" rx="23" ry="19.5" transform="rotate(0 528.5 311.5)" fill="#fff" stroke="#222" stroke-width="1.9" stroke-dasharray="3 1.8"/>
<circle cx="519.3" cy="311.6" r="1.4" fill="#fff" stroke="#333" stroke-width="0.8"/><circle cx="530.2" cy="315.4" r="1.4" fill="#fff" stroke="#333" stroke-width="0.8"/><circle cx="531.6" cy="307.3" r="1.4" fill="#fff" stroke="#333" stroke-width="0.8"/><circle cx="527.7" cy="320.9" r="1.4" fill="#fff" stroke="#333" stroke-width="0.8"/><circle cx="516.9" cy="315" r="1.4" fill="#fff" stroke="#333" stroke-width="0.8"/><circle cx="523.7" cy="320.1" r="1.4" fill="#fff" stroke="#333" stroke-width="0.8"/><circle cx="517.5" cy="319.3" r="1.4" fill="#fff" stroke="#333" stroke-width="0.8"/><circle cx="531.8" cy="301.7" r="1.4" fill="#fff" stroke="#333" stroke-width="0.8"/><circle cx="525.4" cy="302.5" r="1.4" fill="#fff" stroke="#333" stroke-width="0.8"/><circle cx="543" cy="313" r="1.4" fill="#fff" stroke="#333" stroke-width="0.8"/><circle cx="516.9" cy="307.2" r="1.4" fill="#fff" stroke="#333" stroke-width="0.8"/><circle cx="538" cy="316" r="1.4" fill="#fff" stroke="#333" stroke-width="0.8"/><circle cx="513.6" cy="314.1" r="1.4" fill="#fff" stroke="#333" stroke-width="0.8"/><circle cx="534.9" cy="318.3" r="1.4" fill="#fff" stroke="#333" stroke-width="0.8"/>
<ellipse cx="529" cy="310" rx="5.5" ry="4.8" transform="rotate(0 529 310)" fill="#000" stroke="#222" stroke-width="0" />
<path class="ln" d="M492,314 Q500,318 508,321 L522,330 Q532,334 540,332" />
<path class="ln" d="M558,299 Q553,304 556,310 Q558,314 553,316" style="stroke-width:0.9"/>
<polyline fill="none" stroke="#222" stroke-width="1" points="540,332 537.9,332.4 539.8,333.5 541.6,334.6 539.5,335 537.4,335.4 539.2,336.5 541.1,337.6 539,338 536.9,338.4 538.8,339.5 540.6,340.6 538.5,341 536.4,341.4 538.2,342.5 540.1,343.6 538,344"/>
<path class="ln" d="M553,321 Q559,320 566,326 Q562,329 553,328 Z" style="fill:#000;stroke-width:1"/>
<rect x="551" y="318.5" width="11" height="4.5" fill="#eee" stroke="#333" stroke-width="0.8"/>
<path class="ln" d="M563,330 Q568,334 570,339" style="stroke-dasharray:2 1.5;stroke-width:0.9"/>
<text class="n" x="545" y="348">10</text>
<path class="ln" d="M492,314 L466,344 Q468,352 472,354 L490,372" />
<path class="ln" d="M490,372 Q486,378 482,379 L482,384" style="stroke-width:1"/>
<ellipse cx="473" cy="344" rx="6.5" ry="11" transform="rotate(30 473 344)" fill="#d3d4d6" stroke="#444" stroke-width="0.9" />
<ellipse cx="506" cy="359" rx="24" ry="26" transform="rotate(-25 506 359)" fill="#fff" stroke="#222" stroke-width="1.5" />
<ellipse cx="506" cy="359" rx="21.5" ry="23.5" transform="rotate(-25 506 359)" fill="none" stroke="#222" stroke-width="0.7" />
<ellipse cx="506.8" cy="361.3" rx="2.1" ry="1.5" fill="#555"/><ellipse cx="503.2" cy="369.5" rx="1.7" ry="1.5" fill="#555"/><ellipse cx="499.6" cy="353.9" rx="1.3" ry="1.9" fill="#555"/><ellipse cx="523.3" cy="359.9" rx="1.9" ry="1.5" fill="#555"/><ellipse cx="497.2" cy="346.2" rx="2" ry="1.5" fill="#555"/><ellipse cx="514.9" cy="367.2" rx="1.9" ry="1.3" fill="#555"/><ellipse cx="509.1" cy="346.1" rx="1.6" ry="1.3" fill="#555"/><ellipse cx="496.2" cy="345" rx="1.5" ry="1.2" fill="#555"/><ellipse cx="498.2" cy="368.4" rx="1.8" ry="1.1" fill="#555"/><ellipse cx="504.2" cy="356.2" rx="1.6" ry="1.3" fill="#555"/><ellipse cx="495" cy="345.3" rx="1.9" ry="1.9" fill="#555"/><ellipse cx="508.9" cy="353.3" rx="2.2" ry="1.5" fill="#555"/><ellipse cx="493.2" cy="358.9" rx="2.2" ry="1.3" fill="#555"/><ellipse cx="517.8" cy="351.9" rx="1.6" ry="2.1" fill="#555"/><ellipse cx="519" cy="367.5" rx="1.3" ry="1.8" fill="#555"/><ellipse cx="509.7" cy="344.9" rx="1.3" ry="2.1" fill="#555"/><ellipse cx="506.8" cy="354.4" rx="1.7" ry="1.4" fill="#555"/><ellipse cx="496.1" cy="346.8" rx="2.2" ry="2.2" fill="#555"/><ellipse cx="501.8" cy="341.5" rx="1.8" ry="1.3" fill="#555"/><ellipse cx="494.7" cy="346.6" rx="1.7" ry="1.2" fill="#555"/><ellipse cx="493.4" cy="352.2" rx="1.7" ry="2.2" fill="#555"/><ellipse cx="513.9" cy="368.7" rx="2" ry="1.7" fill="#555"/><ellipse cx="493.4" cy="365.7" rx="1.5" ry="2.2" fill="#555"/><ellipse cx="512.9" cy="360.8" rx="1.2" ry="1.5" fill="#555"/><ellipse cx="509.9" cy="372.5" rx="2" ry="2.1" fill="#555"/><ellipse cx="515.2" cy="375.5" rx="1.7" ry="1.4" fill="#555"/><ellipse cx="513.4" cy="361.1" rx="2.3" ry="1.9" fill="#555"/><ellipse cx="502.8" cy="369.7" rx="2.2" ry="1.3" fill="#555"/><ellipse cx="520.2" cy="348.4" rx="1.2" ry="1.7" fill="#555"/><ellipse cx="515.8" cy="354" rx="1.4" ry="2" fill="#555"/><ellipse cx="495" cy="372.2" rx="1.5" ry="1.8" fill="#555"/><ellipse cx="502.2" cy="350.3" rx="1.3" ry="2.1" fill="#555"/><ellipse cx="500.5" cy="351.3" rx="1.8" ry="2" fill="#555"/><ellipse cx="490.7" cy="364.2" rx="1.3" ry="2" fill="#555"/><ellipse cx="508.4" cy="358.6" rx="1.7" ry="1.4" fill="#555"/><ellipse cx="498.3" cy="346.9" rx="1.5" ry="1.8" fill="#555"/><ellipse cx="506.7" cy="350.3" rx="1.8" ry="2" fill="#555"/><ellipse cx="500" cy="346.2" rx="2.1" ry="1.8" fill="#555"/><ellipse cx="505.9" cy="364.2" rx="1.7" ry="1.3" fill="#555"/><ellipse cx="491.1" cy="360" rx="1.8" ry="1.6" fill="#555"/><ellipse cx="513.3" cy="370.1" rx="1.2" ry="2.2" fill="#555"/><ellipse cx="501" cy="353.6" rx="2.2" ry="1.6" fill="#555"/><ellipse cx="510.8" cy="341.6" rx="1.9" ry="1.2" fill="#555"/><ellipse cx="506.7" cy="372.7" rx="2.2" ry="1.4" fill="#555"/><ellipse cx="523.1" cy="354" rx="1.8" ry="1.1" fill="#555"/><ellipse cx="503.4" cy="347.5" rx="1.3" ry="1.9" fill="#555"/><ellipse cx="514.6" cy="359.6" rx="2.1" ry="1.1" fill="#555"/><ellipse cx="491.5" cy="351.9" rx="2.1" ry="1.7" fill="#555"/><ellipse cx="495.5" cy="364.2" rx="1.3" ry="2.3" fill="#555"/><ellipse cx="515.7" cy="373.2" rx="1.9" ry="1.3" fill="#555"/><ellipse cx="514.2" cy="366.5" rx="2.2" ry="1.9" fill="#555"/><ellipse cx="503.1" cy="375.9" rx="1.9" ry="2.2" fill="#555"/><ellipse cx="501.6" cy="377.1" rx="1.7" ry="1.4" fill="#555"/><ellipse cx="506.2" cy="347.1" rx="1.4" ry="1.5" fill="#555"/><ellipse cx="499" cy="354.1" rx="1.7" ry="1.8" fill="#555"/><ellipse cx="521.4" cy="358.3" rx="2.1" ry="2.2" fill="#555"/><ellipse cx="491" cy="367.1" rx="1.3" ry="1.5" fill="#555"/><ellipse cx="507.6" cy="359.7" rx="2" ry="2" fill="#555"/><ellipse cx="497.3" cy="366.5" rx="1.7" ry="1.6" fill="#555"/><ellipse cx="517.9" cy="363.6" rx="1.9" ry="1.6" fill="#555"/><ellipse cx="492.8" cy="369.2" rx="1.4" ry="1.5" fill="#555"/><ellipse cx="505.6" cy="347.5" rx="2.2" ry="1.3" fill="#555"/><ellipse cx="515.7" cy="348.8" rx="1.6" ry="1.7" fill="#555"/><ellipse cx="522.4" cy="355.2" rx="1.4" ry="2.2" fill="#555"/><ellipse cx="507.4" cy="369.2" rx="2.2" ry="2" fill="#555"/><ellipse cx="495.8" cy="348.4" rx="1.2" ry="2.3" fill="#555"/><ellipse cx="514.4" cy="376.9" rx="1.4" ry="2.2" fill="#555"/><ellipse cx="489.2" cy="350" rx="1.2" ry="1.1" fill="#555"/><ellipse cx="501.5" cy="375.4" rx="1.6" ry="1.6" fill="#555"/><ellipse cx="503.8" cy="342.8" rx="2" ry="1.4" fill="#555"/><ellipse cx="501.5" cy="347.7" rx="1.4" ry="1.3" fill="#555"/><ellipse cx="501" cy="358.2" rx="1.2" ry="2.1" fill="#555"/><ellipse cx="503.3" cy="368.5" rx="1.3" ry="1.2" fill="#555"/><ellipse cx="508" cy="350.4" rx="2.3" ry="2.1" fill="#555"/><ellipse cx="515.4" cy="364.2" rx="1.5" ry="2.2" fill="#555"/><ellipse cx="509.1" cy="363.2" rx="2.1" ry="2.2" fill="#555"/><ellipse cx="500.9" cy="358.7" rx="1.6" ry="2.2" fill="#555"/><ellipse cx="494.8" cy="358.2" rx="1.3" ry="2.3" fill="#555"/><ellipse cx="512.5" cy="355.3" rx="1.6" ry="1.6" fill="#555"/><ellipse cx="502.7" cy="346.7" rx="1.7" ry="1.6" fill="#555"/><ellipse cx="499.5" cy="353.1" rx="1.1" ry="1.3" fill="#555"/><ellipse cx="512.2" cy="350.7" rx="1.2" ry="1.2" fill="#555"/><ellipse cx="508.2" cy="343.2" rx="2.2" ry="1.7" fill="#555"/><ellipse cx="511.3" cy="360.1" rx="2.2" ry="1.3" fill="#555"/><ellipse cx="508" cy="361.8" rx="1.7" ry="1.7" fill="#555"/>
<ellipse cx="500.3" cy="351.9" rx="1.2" ry="1" fill="#222"/><ellipse cx="493.3" cy="371" rx="1.2" ry="1.1" fill="#222"/><ellipse cx="502.5" cy="377" rx="1.2" ry="0.9" fill="#222"/><ellipse cx="501.2" cy="369.5" rx="1.3" ry="1.2" fill="#222"/><ellipse cx="523.2" cy="361.2" rx="0.8" ry="1.1" fill="#222"/><ellipse cx="506" cy="365.6" rx="1" ry="0.8" fill="#222"/><ellipse cx="497.3" cy="355" rx="1.3" ry="0.8" fill="#222"/><ellipse cx="516.8" cy="375" rx="1.1" ry="1.3" fill="#222"/><ellipse cx="501.1" cy="358.3" rx="0.9" ry="0.9" fill="#222"/><ellipse cx="492.9" cy="344.9" rx="1.3" ry="1.1" fill="#222"/><ellipse cx="512.9" cy="357.3" rx="0.8" ry="0.8" fill="#222"/><ellipse cx="508.9" cy="369.2" rx="1.3" ry="0.7" fill="#222"/><ellipse cx="499.5" cy="357.4" rx="0.9" ry="1" fill="#222"/><ellipse cx="491.9" cy="347.6" rx="1.2" ry="1" fill="#222"/><ellipse cx="499.1" cy="361.9" rx="0.7" ry="0.9" fill="#222"/><ellipse cx="492.8" cy="360.2" rx="0.9" ry="1.2" fill="#222"/><ellipse cx="501.8" cy="349.2" rx="1.1" ry="1" fill="#222"/><ellipse cx="501.2" cy="374.4" rx="1" ry="0.7" fill="#222"/><ellipse cx="505.6" cy="354.3" rx="0.8" ry="1.3" fill="#222"/><ellipse cx="504" cy="356.9" rx="0.8" ry="1.1" fill="#222"/><ellipse cx="499.6" cy="346.8" rx="1.2" ry="1.1" fill="#222"/><ellipse cx="510.8" cy="376.9" rx="0.9" ry="0.7" fill="#222"/><ellipse cx="506.1" cy="354.6" rx="1.2" ry="1" fill="#222"/><ellipse cx="499.8" cy="357.7" rx="1" ry="1.1" fill="#222"/><ellipse cx="514.8" cy="350" rx="0.8" ry="0.7" fill="#222"/><ellipse cx="504.7" cy="347" rx="1.2" ry="1" fill="#222"/><ellipse cx="495.3" cy="359.7" rx="0.9" ry="1" fill="#222"/><ellipse cx="508.3" cy="363.5" rx="0.7" ry="1.1" fill="#222"/><ellipse cx="504" cy="365.7" rx="0.9" ry="1.2" fill="#222"/><ellipse cx="516.4" cy="360.6" rx="0.8" ry="0.9" fill="#222"/><ellipse cx="497.5" cy="348.7" rx="1" ry="1" fill="#222"/><ellipse cx="513.6" cy="368.1" rx="0.8" ry="0.9" fill="#222"/><ellipse cx="513.6" cy="360" rx="1.1" ry="0.9" fill="#222"/><ellipse cx="494.7" cy="352.6" rx="1.1" ry="0.9" fill="#222"/><ellipse cx="497.2" cy="359.7" rx="0.8" ry="1" fill="#222"/>
<ellipse cx="509" cy="358" rx="6.5" ry="5.5" transform="rotate(0 509 358)" fill="#000" stroke="#222" stroke-width="0" />
<path class="ln" d="M538,344 Q532,352 535,360 Q538,370 543,377" style="stroke-width:1"/>
<text class="n" x="525" y="389.5">11</text>
<ellipse cx="665.3" cy="225.3" rx="10.5" ry="10.5" transform="rotate(0 665.3 225.3)" fill="none" stroke="#222" stroke-width="2.4" />
<polyline class="ln" points="672.8,217.8 686,209" style="stroke-width:2.2"/>
<polyline class="ln" points="678,207 687,208.5 684,216" style="stroke-width:2.2"/>
<path class="ln" d="M641.9,229.2 L655,226 M676,221 L697.3,217.5 L698.7,284.5 L691.4,305 L682.7,337 Q680,344 675.4,347 Q670,347.5 660,341 L628.7,322.4" />
<path class="ln" d="M690,306.4 L668,300.6" style="stroke-width:0.8"/>
<polyline fill="none" stroke="#222" stroke-width="0.95" points="644,228 640.5,228.4 643.8,229.7 647,231 643.6,231.4 640.1,231.8 643.3,233.1 646.6,234.3 643.1,234.8 639.6,235.2 642.9,236.4 646.2,237.7 642.7,238.1 639.2,238.5 642.5,239.8 645.7,241.1 642.2,241.5 638.8,241.9 642,243.2 645.3,244.5 641.8,244.9 638.3,245.3 641.6,246.6 644.9,247.8 641.4,248.2 637.9,248.7 641.2,249.9 644.4,251.2 640.9,251.6 637.5,252 640.7,253.3 644,254.6 640.5,255 637,255.3 640.2,256.7 643.4,258.1 639.9,258.4 636.5,258.8 639.7,260.2 642.9,261.6 639.4,261.9 635.9,262.2 639.1,263.6 642.3,265 638.8,265.3 635.3,265.7 638.6,267.1 641.8,268.5 638.3,268.8 634.8,269.1 638,270.5 641.2,271.9 637.7,272.2 634.2,272.6 637.5,274 640.7,275.4 637.2,275.7 633.7,276 636.9,277.4 640.1,278.8 636.6,279.1 633.1,279.5 636.4,280.8 639.6,282.2 636.2,282.5 632.7,282.9 635.9,284.2 639.2,285.5 635.7,285.9 632.2,286.3 635.5,287.6 638.7,288.9 635.2,289.3 631.7,289.7 635,291 638.3,292.3 634.8,292.7 631.3,293.1 634.5,294.4 637.8,295.7 634.3,296.1 630.8,296.5 634.1,297.8 637.3,299.1 633.8,299.5 630.4,299.8 633.6,301.2 636.8,302.9 633.2,302.8 629.7,302.3 632.5,304.4 635.3,306.5 631.8,306.1 628.4,305.6 631.2,307.7 634,309.8 630.5,309.3 627,308.8 629.8,310.9 632.6,313 629.2,312.5 625.7,312.1 628.5,314.2 631.3,316.3 627.8,315.8 624.4,315.3"/>
<polyline class="ln" points="647.7,262.7 698.7,262.7" style="stroke-width:1.6"/>
<polyline class="ln" points="634.6,294.8 691.4,307.9" />
<ellipse cx="691.4" cy="236.4" rx="5.8" ry="10.2" transform="rotate(8 691.4 236.4)" fill="#d3d4d6" stroke="#444" stroke-width="0.9" />
<ellipse cx="690" cy="278.7" rx="5.8" ry="10.2" transform="rotate(8 690 278.7)" fill="#d3d4d6" stroke="#444" stroke-width="0.9" />
<ellipse cx="675.4" cy="322.4" rx="7" ry="10" transform="rotate(15 675.4 322.4)" fill="#d3d4d6" stroke="#444" stroke-width="0.9" />
<ellipse cx="656.4" cy="245.2" rx="5.8" ry="5.8" transform="rotate(0 656.4 245.2)" fill="#fff" stroke="#222" stroke-width="1.1" />
<ellipse cx="656.4" cy="245.2" rx="1.8" ry="1.8" transform="rotate(0 656.4 245.2)" fill="#000" stroke="#222" stroke-width="0" />
<ellipse cx="656.4" cy="280.2" rx="12.2" ry="14.6" transform="rotate(0 656.4 280.2)" fill="#fff" stroke="#222" stroke-width="1.1" />
<ellipse cx="653.1" cy="283" rx="1" ry="1.7" fill="#111"/><ellipse cx="651.9" cy="273.3" rx="1" ry="1.1" fill="#111"/><ellipse cx="653.8" cy="287.5" rx="1.5" ry="1.2" fill="#111"/><ellipse cx="650.1" cy="276.7" rx="1" ry="1.5" fill="#111"/><ellipse cx="663.8" cy="278.8" rx="1.7" ry="1.7" fill="#111"/><ellipse cx="659.5" cy="274.4" rx="1.1" ry="1.2" fill="#111"/><ellipse cx="660.9" cy="280.5" rx="1.2" ry="1" fill="#111"/><ellipse cx="653.6" cy="277.7" rx="1" ry="1.2" fill="#111"/><ellipse cx="652.5" cy="278.3" rx="1.3" ry="1.4" fill="#111"/><ellipse cx="663" cy="275.5" rx="1.1" ry="1.2" fill="#111"/><ellipse cx="651" cy="281.9" rx="1.3" ry="1.2" fill="#111"/><ellipse cx="658.8" cy="283" rx="1.5" ry="1.6" fill="#111"/><ellipse cx="655.9" cy="284.8" rx="1.4" ry="1.4" fill="#111"/>
<ellipse cx="650.6" cy="318" rx="13" ry="11" transform="rotate(20 650.6 318)" fill="#fff" stroke="#222" stroke-width="1.1" />
<polyline fill="none" stroke="#111" stroke-width="1.5" stroke-linejoin="round" points="640.4,316.2 652.4,316.1 654.8,323.3 656.2,316.9 647,319.4 656.7,314.6 657.9,319.6 650.3,312.9 649,311.8 657.7,323.3 647.2,316.7 659.3,322.6 649.6,315.1 641.1,313.4 647.9,324.6 657.1,320.3 647.2,314 659.4,316.5 643.4,317 645.7,318.7 653,323.9 644.1,317.5 655.8,325.4 651.3,318.2 651,323.6 646.2,316 644.7,311.3 657.6,323.9 642.9,315.7 646.5,322.9"/>
<path class="ln" d="M626,316 Q630,320 634,322" style="stroke-width:1"/>
<text class="n" x="626.5" y="263">7</text>
<text class="n" x="604.5" y="328.4">9</text>
<path class="ln" d="M600,308.5 Q606,304 611,302 Q617.5,300.5 617.5,304 Q617,307.5 611,308 L600,309 Z" style="fill:#111;stroke-width:1.1"/>
<path class="ln" d="M601,307 Q610,299 617,294.5 M609,309.3 L617.5,309.5" style="stroke-width:0.8"/>
<path class="ln" d="M590,307 Q582,308 577,314" style="stroke-width:1.3"/>
<polygon fill="#111" points="571.6,320.7 573.1,314.4 577.2,317.3"/>
<path class="ln" d="M609,228 Q612,240 606,243 Q600,246 597,243 M609,228 Q608,242 615,246 L622,248" style="stroke-width:1.2"/>
<polygon fill="#111" points="594,243 600.3,241.5 599.5,246.5"/>
<polygon fill="#111" points="627,249 620.6,250.2 621.7,245.3"/>
<path class="ln" d="M193.3,320.8 Q195,317.5 197.8,317.7 L206.7,317 Q214,318 220.7,319.6 Q228,321 233.5,324 Q239,327 243.7,331.7 Q247,335 248.1,339.3 L248.8,343.2 Q251,342 252.6,342.5 Q256,343.5 257.7,345.7 Q260,348 259.6,350.8 Q259.5,355 257.7,357.2 Q256,359 254.5,360.4 L248.8,362.3 Q246,360 245,358.5 Q243.5,355.5 242.4,353.4 Q239,351.5 236,350.8 L228.4,348.9 Q226,350 225.8,348.3 L211.8,347 Q210.5,346.5 210.5,346.4 Q206,340 202.9,333 Q200,328 197.8,325.3 Z" style="fill:#eaebed;stroke:#2a2a2a;stroke-width:1.05"/>
<path class="ln" d="M248.8,362.3 L255.8,362.3 L255.8,370 Q254,372 252.6,371.9 Q251,371.5 250,370 Z" style="fill:#8f9092;stroke:#555;stroke-width:0.7"/>
<path class="ln" d="M212,347 L215,357 L218,364 M216,350 L222,359 L228,358 M226,349 L227,354" style="stroke:#333;stroke-width:1"/>
<path class="ln" d="M211.8,347 L213,354.6 L216.9,363.6 L218.2,358.5 L223.3,358.5 L222,354.6 L215.6,350 Z" style="fill:#a9aaac;stroke:#333;stroke-width:0.8"/>
<path class="ln" d="M225,348.5 L227,353 L230,354 L228.4,349 Z" style="fill:#a9aaac;stroke:#333;stroke-width:0.8"/>
<circle cx="249.4" cy="357.2" r="1" fill="#222"/>
<path class="ln" d="M177,301 Q182,299 181,306 Q179,316 177,324 Q172,320 172,312 Q172,305 177,301 Z" style="fill:#eee;stroke-width:1.1"/>
<circle cx="174.8" cy="313" r="1.7" fill="#000"/>
<path class="ln" d="M182,330 Q186,331 184,338 Q180,346 175,349 Q172,345 175,338 Q178,332 182,330 Z" style="fill:#eee;stroke-width:1.1"/>
<circle cx="177" cy="342" r="1.9" fill="#000"/>
<path class="ln" d="M147.5,349 Q160,350 171,344 Q176,346 175,352 Q168,362 156,363 Q148,361 147.5,353 Z" style="fill:#fff;stroke-width:0.9"/>
<path class="ln" d="M170,345 L176,344 L176,350 L170,349 Z" style="fill:#ddd;stroke-width:0.8"/>
<text class="n" x="126.5" y="348" style="font-size:14px">B</text>
<ellipse cx="187" cy="380" rx="14.5" ry="11" transform="rotate(48 187 380)" fill="#fff" stroke="#222" stroke-width="1.1" />
<ellipse cx="187" cy="380" rx="12" ry="8.5" transform="rotate(48 187 380)" fill="none" stroke="#222" stroke-width="0.6" />
<path class="ln" d="M178,372 Q187,379 196,388 M180,382 Q187,379 194,378" style="stroke-width:0.7"/>
<ellipse cx="185" cy="379" rx="2.8" ry="2.5" transform="rotate(0 185 379)" fill="#444" stroke="#222" stroke-width="0" />
<ellipse cx="190" cy="384" rx="2.5" ry="2" transform="rotate(0 190 384)" fill="#555" stroke="#222" stroke-width="0" />
<ellipse cx="189" cy="375" rx="1.8" ry="1.6" transform="rotate(0 189 375)" fill="#666" stroke="#222" stroke-width="0" />
<ellipse cx="183" cy="385" rx="1.6" ry="1.6" transform="rotate(0 183 385)" fill="#777" stroke="#222" stroke-width="0" />
<text class="n" x="193.5" y="415.5" style="font-size:14px">A</text>
<ellipse cx="251.5" cy="402.5" rx="28" ry="21.5" transform="rotate(35 251.5 402.5)" fill="#fff" stroke="#222" stroke-width="2.0" />
<ellipse cx="251.5" cy="402.5" rx="25.5" ry="19" transform="rotate(35 251.5 402.5)" fill="none" stroke="#222" stroke-width="0.7" />
<ellipse cx="244.2" cy="391.7" rx="12" ry="6" transform="rotate(20 244.2 391.7)" fill="none" stroke="#222" stroke-width="0.8" />
<ellipse cx="262.1" cy="401.9" rx="12" ry="7" transform="rotate(50 262.1 401.9)" fill="none" stroke="#222" stroke-width="0.8" />
<ellipse cx="239.1" cy="405.7" rx="12" ry="6" transform="rotate(25 239.1 405.7)" fill="none" stroke="#222" stroke-width="0.8" />
<ellipse cx="258.3" cy="415.9" rx="12" ry="6" transform="rotate(20 258.3 415.9)" fill="none" stroke="#222" stroke-width="0.8" />
<ellipse cx="252.8" cy="402.1" rx="1.6" ry="1.5" fill="#666"/><ellipse cx="246.9" cy="407.9" rx="1.7" ry="1.9" fill="#666"/><ellipse cx="247.5" cy="395.8" rx="1.4" ry="1.3" fill="#666"/><ellipse cx="238.8" cy="395.2" rx="1.4" ry="1.7" fill="#666"/><ellipse cx="262.8" cy="404.6" rx="1.5" ry="1.9" fill="#666"/><ellipse cx="239.4" cy="405.1" rx="1.4" ry="1.6" fill="#666"/><ellipse cx="254.4" cy="414.9" rx="1.5" ry="1.5" fill="#666"/><ellipse cx="262.1" cy="411.9" rx="1.8" ry="1.3" fill="#666"/><ellipse cx="239.6" cy="393" rx="1.4" ry="1.4" fill="#666"/><ellipse cx="246.9" cy="390.1" rx="1.8" ry="1.5" fill="#666"/><ellipse cx="258.1" cy="395.6" rx="1.9" ry="1.5" fill="#666"/><ellipse cx="242.9" cy="399.9" rx="1.9" ry="1.2" fill="#666"/>
<ellipse cx="248" cy="405.7" rx="3.5" ry="3" transform="rotate(0 248 405.7)" fill="#222" stroke="#222" stroke-width="0" />
<path class="ln" d="M243,390 L247,394 M262,400 L266,404 M239,404 L243,407" style="stroke:#111;stroke-width:1.5"/>
<ellipse cx="340.5" cy="413.2" rx="26" ry="23.5" transform="rotate(-50 340.5 413.2)" fill="#fff" stroke="#222" stroke-width="1.6" />
<ellipse cx="342" cy="412.5" rx="6" ry="6" transform="rotate(0 342 412.5)" fill="#555" stroke="#222" stroke-width="0" />
<ellipse cx="333.5" cy="407.5" rx="8.2" ry="8.2" transform="rotate(0 333.5 407.5)" fill="#5a5a5a" stroke="#262626" stroke-width="1.0" />
<ellipse cx="347" cy="403" rx="8" ry="8" transform="rotate(0 347 403)" fill="#5a5a5a" stroke="#262626" stroke-width="1.0" />
<ellipse cx="335.5" cy="422" rx="8" ry="8" transform="rotate(0 335.5 422)" fill="#5a5a5a" stroke="#262626" stroke-width="1.0" />
<ellipse cx="351" cy="417.5" rx="8.2" ry="8.2" transform="rotate(0 351 417.5)" fill="#5a5a5a" stroke="#262626" stroke-width="1.0" />
<ellipse cx="348.2" cy="401" rx="1.6" ry="1.5" fill="#8d8d8d"/><ellipse cx="350.2" cy="411.3" rx="1.4" ry="0.9" fill="#8d8d8d"/><ellipse cx="345.5" cy="408.1" rx="1.1" ry="1.6" fill="#8d8d8d"/><ellipse cx="332.4" cy="421.2" rx="1.4" ry="0.8" fill="#8d8d8d"/><ellipse cx="343.5" cy="405.8" rx="1.2" ry="1.6" fill="#8d8d8d"/><ellipse cx="336.9" cy="420.4" rx="1.4" ry="1.5" fill="#8d8d8d"/><ellipse cx="348.5" cy="410.2" rx="1" ry="1" fill="#8d8d8d"/><ellipse cx="337.7" cy="425.6" rx="1.4" ry="0.9" fill="#8d8d8d"/><ellipse cx="338.3" cy="401.7" rx="0.9" ry="1.5" fill="#8d8d8d"/><ellipse cx="339.8" cy="417" rx="1.4" ry="1.2" fill="#8d8d8d"/><ellipse cx="352.9" cy="421.7" rx="1.2" ry="1.2" fill="#8d8d8d"/><ellipse cx="355.2" cy="418.5" rx="1" ry="1.5" fill="#8d8d8d"/><ellipse cx="347.7" cy="410.6" rx="1" ry="1.3" fill="#8d8d8d"/><ellipse cx="331.1" cy="420.3" rx="1.3" ry="1.5" fill="#8d8d8d"/><ellipse cx="332.4" cy="415.3" rx="1.2" ry="1.2" fill="#8d8d8d"/><ellipse cx="346.6" cy="405.7" rx="1" ry="0.8" fill="#8d8d8d"/><ellipse cx="353.3" cy="417.6" rx="0.9" ry="1.2" fill="#8d8d8d"/><ellipse cx="332.1" cy="418.8" rx="1.4" ry="1.5" fill="#8d8d8d"/><ellipse cx="334.1" cy="425" rx="0.9" ry="0.8" fill="#8d8d8d"/><ellipse cx="346" cy="426.2" rx="1.1" ry="0.9" fill="#8d8d8d"/><ellipse cx="328.4" cy="409.5" rx="1.5" ry="1.3" fill="#8d8d8d"/><ellipse cx="341.4" cy="413.4" rx="0.9" ry="0.9" fill="#8d8d8d"/><ellipse cx="334" cy="420.4" rx="1.3" ry="0.7" fill="#8d8d8d"/><ellipse cx="333.9" cy="406" rx="0.9" ry="1.4" fill="#8d8d8d"/><ellipse cx="328.5" cy="410.6" rx="1.4" ry="1.3" fill="#8d8d8d"/><ellipse cx="335.7" cy="400.8" rx="1.4" ry="1.5" fill="#8d8d8d"/><ellipse cx="346.8" cy="415.7" rx="0.8" ry="1" fill="#8d8d8d"/><ellipse cx="334.5" cy="412.5" rx="1" ry="1.2" fill="#8d8d8d"/><ellipse cx="348.3" cy="414.3" rx="1.2" ry="1.4" fill="#8d8d8d"/><ellipse cx="348.9" cy="402.2" rx="0.9" ry="1.5" fill="#8d8d8d"/><ellipse cx="349.7" cy="409" rx="1.3" ry="1.3" fill="#8d8d8d"/><ellipse cx="327.8" cy="410.6" rx="1.4" ry="1.4" fill="#8d8d8d"/><ellipse cx="348.2" cy="406.8" rx="1.5" ry="1.2" fill="#8d8d8d"/><ellipse cx="332.1" cy="413.4" rx="1.3" ry="0.9" fill="#8d8d8d"/><ellipse cx="353.2" cy="420" rx="1.4" ry="1.1" fill="#8d8d8d"/><ellipse cx="355.6" cy="406.4" rx="1.1" ry="1.4" fill="#8d8d8d"/><ellipse cx="345.6" cy="425.9" rx="1" ry="0.8" fill="#8d8d8d"/><ellipse cx="345.3" cy="423.7" rx="0.9" ry="1.4" fill="#8d8d8d"/><ellipse cx="353.2" cy="409" rx="0.8" ry="0.9" fill="#8d8d8d"/><ellipse cx="348.5" cy="399.7" rx="1.3" ry="1.2" fill="#8d8d8d"/><ellipse cx="345.7" cy="407.6" rx="1.2" ry="0.9" fill="#8d8d8d"/><ellipse cx="357.2" cy="413.1" rx="1.3" ry="1.1" fill="#8d8d8d"/><ellipse cx="351.3" cy="424.9" rx="0.8" ry="1.6" fill="#8d8d8d"/><ellipse cx="334.4" cy="416.5" rx="0.9" ry="1" fill="#8d8d8d"/><ellipse cx="356" cy="416.9" rx="1.1" ry="1.1" fill="#8d8d8d"/>
<ellipse cx="338.3" cy="414.2" rx="0.9" ry="1" fill="#1e1e1e"/><ellipse cx="346.9" cy="422.5" rx="0.9" ry="0.9" fill="#1e1e1e"/><ellipse cx="343.5" cy="416.5" rx="0.6" ry="1.1" fill="#1e1e1e"/><ellipse cx="345.8" cy="416.5" rx="0.7" ry="0.9" fill="#1e1e1e"/><ellipse cx="344.6" cy="400.3" rx="0.8" ry="1" fill="#1e1e1e"/><ellipse cx="350.5" cy="419.2" rx="1" ry="1.2" fill="#1e1e1e"/><ellipse cx="354.9" cy="418.4" rx="0.7" ry="0.7" fill="#1e1e1e"/><ellipse cx="331.7" cy="415.7" rx="0.9" ry="0.6" fill="#1e1e1e"/><ellipse cx="346.2" cy="404.7" rx="0.8" ry="1.2" fill="#1e1e1e"/><ellipse cx="354.2" cy="414.4" rx="0.6" ry="0.8" fill="#1e1e1e"/><ellipse cx="344.7" cy="426.6" rx="0.8" ry="0.6" fill="#1e1e1e"/><ellipse cx="352.5" cy="411.6" rx="0.8" ry="0.8" fill="#1e1e1e"/><ellipse cx="328.7" cy="407.5" rx="0.9" ry="1.2" fill="#1e1e1e"/><ellipse cx="347" cy="415.4" rx="1.2" ry="1" fill="#1e1e1e"/><ellipse cx="341.3" cy="416.8" rx="1.1" ry="0.6" fill="#1e1e1e"/><ellipse cx="341.8" cy="408.9" rx="1.1" ry="0.7" fill="#1e1e1e"/><ellipse cx="352.4" cy="402.6" rx="0.9" ry="0.9" fill="#1e1e1e"/><ellipse cx="334.6" cy="419.5" rx="1.1" ry="1.2" fill="#1e1e1e"/><ellipse cx="337.9" cy="426.4" rx="1" ry="1.1" fill="#1e1e1e"/><ellipse cx="330.1" cy="410.4" rx="1.1" ry="1" fill="#1e1e1e"/><ellipse cx="330.3" cy="415" rx="1.1" ry="1.1" fill="#1e1e1e"/><ellipse cx="350.7" cy="414.1" rx="0.8" ry="0.9" fill="#1e1e1e"/><ellipse cx="330.9" cy="420.5" rx="0.8" ry="0.7" fill="#1e1e1e"/><ellipse cx="337" cy="405.6" rx="1.2" ry="0.6" fill="#1e1e1e"/><ellipse cx="336" cy="409.4" rx="0.9" ry="0.6" fill="#1e1e1e"/><ellipse cx="351.2" cy="407.4" rx="1" ry="0.7" fill="#1e1e1e"/>
<ellipse cx="318" cy="432.5" rx="2.2" ry="2" transform="rotate(0 318 432.5)" fill="#777" stroke="#222" stroke-width="0" />
<path class="ln" d="M404,404 Q403,389 414,384 Q427,380 441,386 Q452,394 451,407 Q450,421 442,429 Q438,434 434,437.5 Q427,437 419,431 Q405,421 404,404 Z" style="fill:#fff;stroke:#1a1a1a;stroke-width:1.7"/>
<ellipse cx="427.5" cy="405.3" rx="21.3" ry="20.3" transform="rotate(0 427.5 405.3)" fill="#a2a2a2" stroke="#333" stroke-width="1.1" />
<ellipse cx="430.6" cy="394.3" rx="1.4" ry="1.3" fill="#3a3a3a"/><ellipse cx="426.3" cy="411.2" rx="0.9" ry="0.9" fill="#3a3a3a"/><ellipse cx="419.5" cy="412.2" rx="0.8" ry="1.4" fill="#3a3a3a"/><ellipse cx="422.4" cy="404.3" rx="0.9" ry="1.1" fill="#3a3a3a"/><ellipse cx="423.8" cy="394.8" rx="1" ry="0.9" fill="#3a3a3a"/><ellipse cx="434.3" cy="411.2" rx="1.3" ry="1" fill="#3a3a3a"/><ellipse cx="422.9" cy="402.5" rx="1" ry="1.2" fill="#3a3a3a"/><ellipse cx="428.8" cy="399.7" rx="0.7" ry="1.2" fill="#3a3a3a"/><ellipse cx="414.2" cy="412" rx="1.2" ry="1" fill="#3a3a3a"/><ellipse cx="433.3" cy="404.4" rx="1" ry="1.3" fill="#3a3a3a"/><ellipse cx="420.3" cy="418.6" rx="1.2" ry="1.2" fill="#3a3a3a"/><ellipse cx="435.3" cy="415.2" rx="1.3" ry="1.3" fill="#3a3a3a"/><ellipse cx="438.6" cy="413.9" rx="1.3" ry="1" fill="#3a3a3a"/><ellipse cx="429.3" cy="412.1" rx="0.9" ry="0.7" fill="#3a3a3a"/><ellipse cx="419.1" cy="417" rx="0.8" ry="1.4" fill="#3a3a3a"/><ellipse cx="418" cy="394.7" rx="0.8" ry="1.4" fill="#3a3a3a"/><ellipse cx="442.7" cy="398.8" rx="0.8" ry="1.2" fill="#3a3a3a"/><ellipse cx="432.6" cy="418.1" rx="1" ry="1.1" fill="#3a3a3a"/><ellipse cx="439.1" cy="395.9" rx="0.9" ry="1.2" fill="#3a3a3a"/><ellipse cx="429.5" cy="406.6" rx="0.9" ry="1.4" fill="#3a3a3a"/><ellipse cx="419.4" cy="411.7" rx="1.3" ry="1" fill="#3a3a3a"/><ellipse cx="413.1" cy="399.6" rx="1" ry="1" fill="#3a3a3a"/><ellipse cx="433.8" cy="411.7" rx="1.2" ry="1" fill="#3a3a3a"/><ellipse cx="433.7" cy="407.1" rx="0.8" ry="1.1" fill="#3a3a3a"/><ellipse cx="420.6" cy="411.6" rx="1.2" ry="0.9" fill="#3a3a3a"/><ellipse cx="425" cy="403.7" rx="0.9" ry="0.7" fill="#3a3a3a"/><ellipse cx="436.6" cy="403.1" rx="1.2" ry="0.9" fill="#3a3a3a"/><ellipse cx="437.9" cy="404" rx="1.4" ry="1.3" fill="#3a3a3a"/><ellipse cx="410.7" cy="402.1" rx="1" ry="0.9" fill="#3a3a3a"/><ellipse cx="431.9" cy="392.5" rx="1.2" ry="1.3" fill="#3a3a3a"/><ellipse cx="418.6" cy="410.3" rx="1.2" ry="1.4" fill="#3a3a3a"/><ellipse cx="438.8" cy="399.5" rx="1.2" ry="0.8" fill="#3a3a3a"/><ellipse cx="435.6" cy="402.3" rx="0.9" ry="0.9" fill="#3a3a3a"/><ellipse cx="416.7" cy="416" rx="0.8" ry="0.9" fill="#3a3a3a"/><ellipse cx="415.8" cy="393" rx="1.2" ry="1.1" fill="#3a3a3a"/><ellipse cx="433.8" cy="419.7" rx="1" ry="0.7" fill="#3a3a3a"/><ellipse cx="415.7" cy="405.9" rx="1.2" ry="1.3" fill="#3a3a3a"/><ellipse cx="427.9" cy="395.5" rx="1.1" ry="1.4" fill="#3a3a3a"/><ellipse cx="442.8" cy="408.1" rx="1" ry="0.8" fill="#3a3a3a"/><ellipse cx="431.7" cy="413" rx="1.4" ry="1.1" fill="#3a3a3a"/><ellipse cx="419.5" cy="406.4" rx="1.4" ry="0.9" fill="#3a3a3a"/><ellipse cx="417.4" cy="413.3" rx="1" ry="1.1" fill="#3a3a3a"/><ellipse cx="442.6" cy="404.2" rx="0.8" ry="0.8" fill="#3a3a3a"/><ellipse cx="414.7" cy="403.1" rx="1.3" ry="1.3" fill="#3a3a3a"/><ellipse cx="437.3" cy="414.5" rx="0.8" ry="1.2" fill="#3a3a3a"/><ellipse cx="417" cy="406.2" rx="0.7" ry="1.3" fill="#3a3a3a"/><ellipse cx="413.4" cy="408.6" rx="1.2" ry="1.2" fill="#3a3a3a"/><ellipse cx="434.4" cy="400.6" rx="1.3" ry="1.4" fill="#3a3a3a"/><ellipse cx="434" cy="390.6" rx="1.2" ry="1" fill="#3a3a3a"/><ellipse cx="415.6" cy="412.1" rx="1.3" ry="1.2" fill="#3a3a3a"/><ellipse cx="436.2" cy="411.9" rx="0.9" ry="1" fill="#3a3a3a"/><ellipse cx="437.3" cy="405.9" rx="1" ry="1.3" fill="#3a3a3a"/><ellipse cx="424.5" cy="418.2" rx="0.7" ry="1.1" fill="#3a3a3a"/><ellipse cx="435" cy="397.6" rx="1.1" ry="1.1" fill="#3a3a3a"/><ellipse cx="417.7" cy="392.2" rx="1" ry="0.7" fill="#3a3a3a"/>
<circle cx="414.8" cy="409.2" r="1.5" fill="#f4f4f4" stroke="#333" stroke-width="0"/><circle cx="431.4" cy="401.4" r="1.5" fill="#f4f4f4" stroke="#333" stroke-width="0"/><circle cx="431.7" cy="407.6" r="1.5" fill="#f4f4f4" stroke="#333" stroke-width="0"/><circle cx="423.1" cy="396" r="1.5" fill="#f4f4f4" stroke="#333" stroke-width="0"/><circle cx="425.4" cy="405.3" r="1.5" fill="#f4f4f4" stroke="#333" stroke-width="0"/><circle cx="417.5" cy="406.3" r="1.5" fill="#f4f4f4" stroke="#333" stroke-width="0"/><circle cx="432.2" cy="411.1" r="1.5" fill="#f4f4f4" stroke="#333" stroke-width="0"/><circle cx="421.5" cy="411.7" r="1.5" fill="#f4f4f4" stroke="#333" stroke-width="0"/><circle cx="427.9" cy="413.7" r="1.5" fill="#f4f4f4" stroke="#333" stroke-width="0"/><circle cx="425" cy="401.8" r="1.5" fill="#f4f4f4" stroke="#333" stroke-width="0"/><circle cx="433.6" cy="418.5" r="1.5" fill="#f4f4f4" stroke="#333" stroke-width="0"/><circle cx="439.2" cy="410" r="1.5" fill="#f4f4f4" stroke="#333" stroke-width="0"/><circle cx="425.6" cy="409.6" r="1.5" fill="#f4f4f4" stroke="#333" stroke-width="0"/><circle cx="441.3" cy="401.4" r="1.5" fill="#f4f4f4" stroke="#333" stroke-width="0"/>
<ellipse cx="434" cy="437" rx="2" ry="1.6" transform="rotate(0 434 437)" fill="#666" stroke="#222" stroke-width="0" />
<text class="n" x="381" y="431" style="font-size:14px">12</text>
<path class="ln" d="M487.5,434 C488.4,432.7 491.7,429 493,426 C494.3,423 495.1,419.5 495.5,416 C495.9,412.5 495,408.5 495.2,405 C495.4,401.5 495.4,397.3 496.6,395 C497.8,392.7 500.2,391.4 502.3,391.3 C504.4,391.2 507.3,393 508.9,394.6 C510.5,396.2 511.6,400 512.1,401.1" style="fill:none;stroke:#333;stroke-width:0.95"/>
<path class="ln" d="M495.5,400 Q497,391 502.3,391.3 Q508,391.5 510,396 Q512,399 512.5,401.5 L518,405.2 L512.3,407 Q511,409 513,413 Q517,420 517.5,427 Q517,436 509,438.5 Q504,439.5 500,439.3 L494,439 Q489,437 487.5,434 Q493,426 495.5,416 Q495.5,406 495.5,400 Z" style="fill:#e3e4e6;stroke:#333;stroke-width:0.95"/>
<path class="ln" d="M475.2,418.4 L482.6,417.5 L494.1,416.7 Q497,420 496.6,424.1 Q496.5,429 494.9,432.3 Q492,436 487.5,438.9 Q484,440 481.8,440.5 Q480,433 481,427.4 Q478,422 475.2,418.4 Z" style="fill:#e9eaec;stroke:#444;stroke-width:0.9"/>
<path class="ln" d="M479.3,424.1 Q476,428 472.8,432.3 L469.5,438.9 L463,444 L460.5,449 L472.8,447.9 Q470,445 466,446" style="stroke:#555;stroke-width:0.8"/>
<circle cx="505.5" cy="397.5" r="1.1" fill="#111"/>
<path class="ln" d="M498,439 L497.5,446.5 M505,439 L505.5,446.5 M491,447 L502,447 M500,447 L513,447.5" style="stroke:#111;stroke-width:1.8"/>

</g>

</svg>
</body></html>
